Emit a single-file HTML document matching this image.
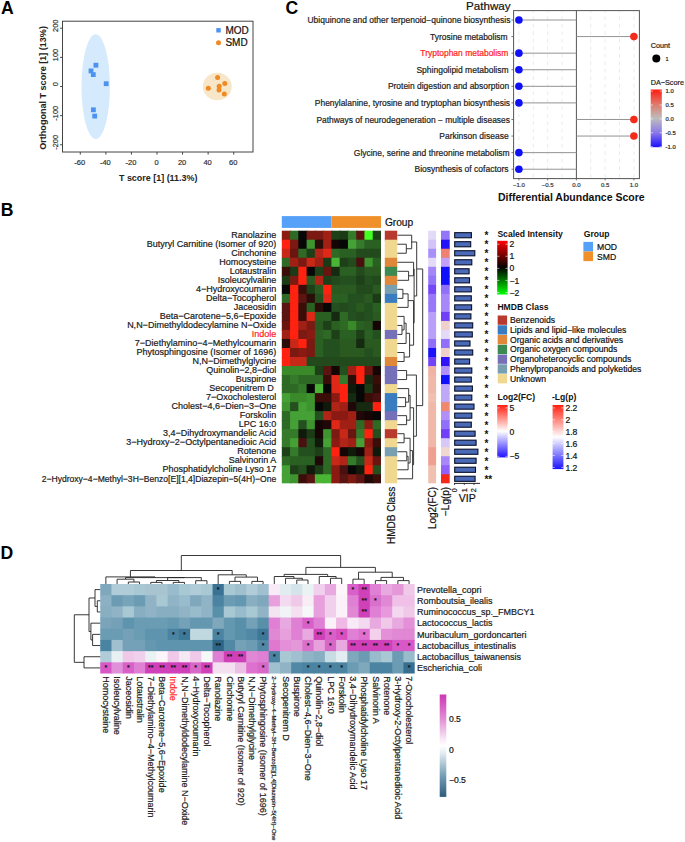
<!DOCTYPE html>
<html><head><meta charset="utf-8"><title>Figure</title>
<style>
html,body{margin:0;padding:0;background:#fff;}
body{width:685px;height:842px;overflow:hidden;}
svg{display:block;font-family:"Liberation Sans", sans-serif;}
</style></head>
<body>
<svg width="685" height="842" viewBox="0 0 685 842" shape-rendering="auto">
<rect x="0" y="0" width="685" height="842" fill="#fff"/>
<text x="0.90" y="14.00" font-size="17.6" font-weight="bold" fill="#000">A</text>
<text x="285.60" y="14.00" font-size="17.6" font-weight="bold" fill="#000">C</text>
<text x="0.70" y="215.80" font-size="17.6" font-weight="bold" fill="#000">B</text>
<text x="0.60" y="558.90" font-size="17.6" font-weight="bold" fill="#000">D</text>
<ellipse cx="95.7" cy="86.6" rx="14.2" ry="52.4" fill="#d5eafc"/>
<ellipse cx="217.3" cy="86.5" rx="14.45" ry="13.8" fill="#f8e6c8"/>
<rect x="62.5" y="21.2" width="190.5" height="130.8" fill="none" stroke="#444" stroke-width="1"/>
<line x1="60.10" y1="28.20" x2="62.50" y2="28.20" stroke="#444" stroke-width="1"/>
<text x="57.90" y="25.80" font-size="7.4" text-anchor="middle" fill="#333" transform="rotate(-90 57.90 25.80)" stroke="#333" stroke-width="0.2">200</text>
<line x1="60.10" y1="57.35" x2="62.50" y2="57.35" stroke="#444" stroke-width="1"/>
<text x="57.90" y="54.95" font-size="7.4" text-anchor="middle" fill="#333" transform="rotate(-90 57.90 54.95)" stroke="#333" stroke-width="0.2">100</text>
<line x1="60.10" y1="86.50" x2="62.50" y2="86.50" stroke="#444" stroke-width="1"/>
<text x="57.90" y="84.10" font-size="7.4" text-anchor="middle" fill="#333" transform="rotate(-90 57.90 84.10)" stroke="#333" stroke-width="0.2">0</text>
<line x1="60.10" y1="115.65" x2="62.50" y2="115.65" stroke="#444" stroke-width="1"/>
<text x="57.90" y="113.25" font-size="7.4" text-anchor="middle" fill="#333" transform="rotate(-90 57.90 113.25)" stroke="#333" stroke-width="0.2">-100</text>
<line x1="60.10" y1="144.80" x2="62.50" y2="144.80" stroke="#444" stroke-width="1"/>
<text x="57.90" y="142.40" font-size="7.4" text-anchor="middle" fill="#333" transform="rotate(-90 57.90 142.40)" stroke="#333" stroke-width="0.2">-200</text>
<line x1="80.29" y1="152.00" x2="80.29" y2="154.60" stroke="#444" stroke-width="1"/>
<text x="79.79" y="165.40" font-size="7.5" text-anchor="middle" fill="#333" stroke="#333" stroke-width="0.2">-60</text>
<line x1="105.86" y1="152.00" x2="105.86" y2="154.60" stroke="#444" stroke-width="1"/>
<text x="105.36" y="165.40" font-size="7.5" text-anchor="middle" fill="#333" stroke="#333" stroke-width="0.2">-40</text>
<line x1="131.43" y1="152.00" x2="131.43" y2="154.60" stroke="#444" stroke-width="1"/>
<text x="130.93" y="165.40" font-size="7.5" text-anchor="middle" fill="#333" stroke="#333" stroke-width="0.2">-20</text>
<line x1="157.00" y1="152.00" x2="157.00" y2="154.60" stroke="#444" stroke-width="1"/>
<text x="156.50" y="165.40" font-size="7.5" text-anchor="middle" fill="#333" stroke="#333" stroke-width="0.2">0</text>
<line x1="182.57" y1="152.00" x2="182.57" y2="154.60" stroke="#444" stroke-width="1"/>
<text x="182.07" y="165.40" font-size="7.5" text-anchor="middle" fill="#333" stroke="#333" stroke-width="0.2">20</text>
<line x1="208.14" y1="152.00" x2="208.14" y2="154.60" stroke="#444" stroke-width="1"/>
<text x="207.64" y="165.40" font-size="7.5" text-anchor="middle" fill="#333" stroke="#333" stroke-width="0.2">40</text>
<line x1="233.71" y1="152.00" x2="233.71" y2="154.60" stroke="#444" stroke-width="1"/>
<text x="233.21" y="165.40" font-size="7.5" text-anchor="middle" fill="#333" stroke="#333" stroke-width="0.2">60</text>
<text x="158.20" y="180.70" font-size="8.95" font-weight="bold" text-anchor="middle" fill="#222">T score [1] (11.3%)</text>
<text x="46.10" y="87.90" font-size="9.05" font-weight="bold" text-anchor="middle" fill="#222" transform="rotate(-90 46.10 87.90)">Orthogonal T score [1] (13%)</text>
<rect x="93.50" y="62.80" width="4.80" height="4.80" fill="#4c92f0"/>
<rect x="88.60" y="68.50" width="4.80" height="4.80" fill="#4c92f0"/>
<rect x="90.90" y="72.20" width="4.80" height="4.80" fill="#4c92f0"/>
<rect x="103.80" y="81.30" width="4.80" height="4.80" fill="#4c92f0"/>
<rect x="91.00" y="107.40" width="4.80" height="4.80" fill="#4c92f0"/>
<rect x="92.30" y="113.70" width="4.80" height="4.80" fill="#4c92f0"/>
<circle cx="217.60" cy="77.50" r="2.50" fill="#ef8a25"/>
<circle cx="208.30" cy="88.30" r="2.50" fill="#ef8a25"/>
<circle cx="219.20" cy="86.30" r="2.50" fill="#ef8a25"/>
<circle cx="219.00" cy="90.00" r="2.50" fill="#ef8a25"/>
<circle cx="224.80" cy="83.50" r="2.50" fill="#ef8a25"/>
<circle cx="224.30" cy="94.10" r="2.50" fill="#ef8a25"/>
<rect x="216.30" y="28.10" width="4.40" height="4.40" fill="#4c92f0"/>
<text x="225.40" y="33.60" font-size="10.0" fill="#111" stroke="#111" stroke-width="0.2">MOD</text>
<circle cx="218.50" cy="42.70" r="2.50" fill="#ef8a25"/>
<text x="225.40" y="46.10" font-size="10.0" fill="#111" stroke="#111" stroke-width="0.2">SMD</text>
<rect x="513.60" y="10.60" width="125.80" height="168.00" fill="#fff"/>
<line x1="518.90" y1="10.60" x2="518.90" y2="178.60" stroke="#e9e9e9" stroke-width="0.9" stroke-dasharray="3.6,3.9" stroke-dashoffset="1.7"/>
<line x1="533.27" y1="10.60" x2="533.27" y2="178.60" stroke="#e9e9e9" stroke-width="0.9" stroke-dasharray="3.6,3.9" stroke-dashoffset="1.7"/>
<line x1="547.65" y1="10.60" x2="547.65" y2="178.60" stroke="#e9e9e9" stroke-width="0.9" stroke-dasharray="3.6,3.9" stroke-dashoffset="1.7"/>
<line x1="562.02" y1="10.60" x2="562.02" y2="178.60" stroke="#e9e9e9" stroke-width="0.9" stroke-dasharray="3.6,3.9" stroke-dashoffset="1.7"/>
<line x1="590.77" y1="10.60" x2="590.77" y2="178.60" stroke="#e9e9e9" stroke-width="0.9" stroke-dasharray="3.6,3.9" stroke-dashoffset="1.7"/>
<line x1="605.15" y1="10.60" x2="605.15" y2="178.60" stroke="#e9e9e9" stroke-width="0.9" stroke-dasharray="3.6,3.9" stroke-dashoffset="1.7"/>
<line x1="619.52" y1="10.60" x2="619.52" y2="178.60" stroke="#e9e9e9" stroke-width="0.9" stroke-dasharray="3.6,3.9" stroke-dashoffset="1.7"/>
<line x1="633.90" y1="10.60" x2="633.90" y2="178.60" stroke="#e9e9e9" stroke-width="0.9" stroke-dasharray="3.6,3.9" stroke-dashoffset="1.7"/>
<line x1="576.40" y1="10.60" x2="576.40" y2="178.60" stroke="#555" stroke-width="1"/>
<line x1="576.40" y1="20.00" x2="518.90" y2="20.00" stroke="#939393" stroke-width="1.0"/>
<line x1="576.40" y1="36.58" x2="633.90" y2="36.58" stroke="#939393" stroke-width="1.0"/>
<line x1="576.40" y1="53.16" x2="518.90" y2="53.16" stroke="#939393" stroke-width="1.0"/>
<line x1="576.40" y1="69.74" x2="518.90" y2="69.74" stroke="#939393" stroke-width="1.0"/>
<line x1="576.40" y1="86.32" x2="518.90" y2="86.32" stroke="#939393" stroke-width="1.0"/>
<line x1="576.40" y1="102.90" x2="518.90" y2="102.90" stroke="#939393" stroke-width="1.0"/>
<line x1="576.40" y1="119.48" x2="633.90" y2="119.48" stroke="#939393" stroke-width="1.0"/>
<line x1="576.40" y1="136.06" x2="633.90" y2="136.06" stroke="#939393" stroke-width="1.0"/>
<line x1="576.40" y1="152.64" x2="518.90" y2="152.64" stroke="#939393" stroke-width="1.0"/>
<line x1="576.40" y1="169.22" x2="518.90" y2="169.22" stroke="#939393" stroke-width="1.0"/>
<rect x="513.6" y="10.6" width="125.79999999999995" height="168.0" fill="none" stroke="#555" stroke-width="1"/>
<circle cx="518.90" cy="20.00" r="3.80" fill="#1010f6"/>
<line x1="511.40" y1="20.00" x2="513.60" y2="20.00" stroke="#555" stroke-width="0.8"/>
<text x="307.50" y="23.10" font-size="8.4" fill="#222" textLength="202.9" lengthAdjust="spacingAndGlyphs" stroke="#222" stroke-width="0.2">Ubiquinone and other terpenoid−quinone biosynthesis</text>
<circle cx="633.90" cy="36.58" r="3.80" fill="#f42a1a"/>
<line x1="511.40" y1="36.58" x2="513.60" y2="36.58" stroke="#555" stroke-width="0.8"/>
<text x="430.10" y="39.68" font-size="8.4" fill="#222" textLength="77.5" lengthAdjust="spacingAndGlyphs" stroke="#222" stroke-width="0.2">Tyrosine metabolism</text>
<circle cx="518.90" cy="53.16" r="3.80" fill="#1010f6"/>
<line x1="511.40" y1="53.16" x2="513.60" y2="53.16" stroke="#555" stroke-width="0.8"/>
<text x="420.30" y="56.26" font-size="8.4" fill="#f22" textLength="88.1" lengthAdjust="spacingAndGlyphs" stroke="#f22" stroke-width="0.2">Tryptophan metabolism</text>
<circle cx="518.90" cy="69.74" r="3.80" fill="#1010f6"/>
<line x1="511.40" y1="69.74" x2="513.60" y2="69.74" stroke="#555" stroke-width="0.8"/>
<text x="416.40" y="72.84" font-size="8.4" fill="#222" textLength="92.2" lengthAdjust="spacingAndGlyphs" stroke="#222" stroke-width="0.2">Sphingolipid metabolism</text>
<circle cx="518.90" cy="86.32" r="3.80" fill="#1010f6"/>
<line x1="511.40" y1="86.32" x2="513.60" y2="86.32" stroke="#555" stroke-width="0.8"/>
<text x="387.90" y="89.42" font-size="8.4" fill="#222" textLength="121.2" lengthAdjust="spacingAndGlyphs" stroke="#222" stroke-width="0.2">Protein digestion and absorption</text>
<circle cx="518.90" cy="102.90" r="3.80" fill="#1010f6"/>
<line x1="511.40" y1="102.90" x2="513.60" y2="102.90" stroke="#555" stroke-width="0.8"/>
<text x="314.80" y="106.00" font-size="8.4" fill="#222" textLength="195.2" lengthAdjust="spacingAndGlyphs" stroke="#222" stroke-width="0.2">Phenylalanine, tyrosine and tryptophan biosynthesis</text>
<circle cx="633.90" cy="119.48" r="3.80" fill="#f42a1a"/>
<line x1="511.40" y1="119.48" x2="513.60" y2="119.48" stroke="#555" stroke-width="0.8"/>
<text x="316.40" y="122.58" font-size="8.4" fill="#222" textLength="193.6" lengthAdjust="spacingAndGlyphs" stroke="#222" stroke-width="0.2">Pathways of neurodegeneration − multiple diseases</text>
<circle cx="633.90" cy="136.06" r="3.80" fill="#f42a1a"/>
<line x1="511.40" y1="136.06" x2="513.60" y2="136.06" stroke="#555" stroke-width="0.8"/>
<text x="439.30" y="139.16" font-size="8.4" fill="#222" textLength="69.3" lengthAdjust="spacingAndGlyphs" stroke="#222" stroke-width="0.2">Parkinson disease</text>
<circle cx="518.90" cy="152.64" r="3.80" fill="#1010f6"/>
<line x1="511.40" y1="152.64" x2="513.60" y2="152.64" stroke="#555" stroke-width="0.8"/>
<text x="353.80" y="155.74" font-size="8.4" fill="#222" textLength="155.8" lengthAdjust="spacingAndGlyphs" stroke="#222" stroke-width="0.2">Glycine, serine and threonine metabolism</text>
<circle cx="518.90" cy="169.22" r="3.80" fill="#1010f6"/>
<line x1="511.40" y1="169.22" x2="513.60" y2="169.22" stroke="#555" stroke-width="0.8"/>
<text x="414.50" y="172.32" font-size="8.4" fill="#222" textLength="94.1" lengthAdjust="spacingAndGlyphs" stroke="#222" stroke-width="0.2">Biosynthesis of cofactors</text>
<line x1="518.90" y1="178.60" x2="518.90" y2="180.40" stroke="#555" stroke-width="0.8"/>
<text x="518.90" y="186.80" font-size="6.0" text-anchor="middle" fill="#333" stroke="#333" stroke-width="0.2">−1.0</text>
<line x1="547.65" y1="178.60" x2="547.65" y2="180.40" stroke="#555" stroke-width="0.8"/>
<text x="547.65" y="186.80" font-size="6.0" text-anchor="middle" fill="#333" stroke="#333" stroke-width="0.2">−0.5</text>
<line x1="576.40" y1="178.60" x2="576.40" y2="180.40" stroke="#555" stroke-width="0.8"/>
<text x="576.40" y="186.80" font-size="6.0" text-anchor="middle" fill="#333" stroke="#333" stroke-width="0.2">0.0</text>
<line x1="605.15" y1="178.60" x2="605.15" y2="180.40" stroke="#555" stroke-width="0.8"/>
<text x="605.15" y="186.80" font-size="6.0" text-anchor="middle" fill="#333" stroke="#333" stroke-width="0.2">0.5</text>
<line x1="633.90" y1="178.60" x2="633.90" y2="180.40" stroke="#555" stroke-width="0.8"/>
<text x="633.90" y="186.80" font-size="6.0" text-anchor="middle" fill="#333" stroke="#333" stroke-width="0.2">1.0</text>
<text x="498.00" y="200.70" font-size="10.5" font-weight="bold" fill="#111">Differential Abundance Score</text>
<text x="466.10" y="10.00" font-size="11.6" fill="#111" stroke="#111" stroke-width="0.2">Pathway</text>
<text x="650.70" y="47.60" font-size="7.25" fill="#222" stroke="#222" stroke-width="0.2">Count</text>
<circle cx="656.30" cy="58.40" r="4.00" fill="#000"/>
<text x="665.50" y="60.60" font-size="5.5" fill="#222" stroke="#222" stroke-width="0.2">1</text>
<text x="650.70" y="85.10" font-size="7.25" fill="#222" stroke="#222" stroke-width="0.2">DA−Score</text>
<defs><linearGradient id="gDA" x1="0" y1="0" x2="0" y2="1"><stop offset="0" stop-color="#ff1a10"/><stop offset="0.25" stop-color="#e0786a"/><stop offset="0.5" stop-color="#bdbdbd"/><stop offset="0.75" stop-color="#8a78e8"/><stop offset="1" stop-color="#1a10ff"/></linearGradient></defs>
<rect x="650.70" y="89.50" width="11.10" height="57.70" fill="url(#gDA)"/>
<line x1="650.70" y1="91.10" x2="652.90" y2="91.10" stroke="#fff" stroke-width="0.6"/>
<line x1="659.60" y1="91.10" x2="661.80" y2="91.10" stroke="#fff" stroke-width="0.6"/>
<text x="665.60" y="93.20" font-size="5.9" fill="#222" stroke="#222" stroke-width="0.2">1.0</text>
<line x1="650.70" y1="105.00" x2="652.90" y2="105.00" stroke="#fff" stroke-width="0.6"/>
<line x1="659.60" y1="105.00" x2="661.80" y2="105.00" stroke="#fff" stroke-width="0.6"/>
<text x="665.60" y="107.10" font-size="5.9" fill="#222" stroke="#222" stroke-width="0.2">0.5</text>
<line x1="650.70" y1="118.90" x2="652.90" y2="118.90" stroke="#fff" stroke-width="0.6"/>
<line x1="659.60" y1="118.90" x2="661.80" y2="118.90" stroke="#fff" stroke-width="0.6"/>
<text x="665.60" y="121.00" font-size="5.9" fill="#222" stroke="#222" stroke-width="0.2">0.0</text>
<line x1="650.70" y1="132.80" x2="652.90" y2="132.80" stroke="#fff" stroke-width="0.6"/>
<line x1="659.60" y1="132.80" x2="661.80" y2="132.80" stroke="#fff" stroke-width="0.6"/>
<text x="665.60" y="134.90" font-size="5.9" fill="#222" stroke="#222" stroke-width="0.2">-0.5</text>
<line x1="650.70" y1="146.70" x2="652.90" y2="146.70" stroke="#fff" stroke-width="0.6"/>
<line x1="659.60" y1="146.70" x2="661.80" y2="146.70" stroke="#fff" stroke-width="0.6"/>
<text x="665.60" y="148.80" font-size="5.9" fill="#222" stroke="#222" stroke-width="0.2">-1.0</text>
<rect x="281.80" y="216.10" width="49.59" height="11.80" fill="#55a0f8"/>
<rect x="331.39" y="216.10" width="49.59" height="11.80" fill="#f0902a"/>
<text x="384.90" y="226.00" font-size="10.2" fill="#111" stroke="#111" stroke-width="0.2">Group</text>
<rect x="281.80" y="230.70" width="9.27" height="10.02" fill="#8a1a12"/>
<rect x="290.06" y="230.70" width="9.27" height="10.02" fill="#2e6a25"/>
<rect x="298.33" y="230.70" width="9.27" height="10.02" fill="#070707"/>
<rect x="306.60" y="230.70" width="9.27" height="10.02" fill="#7a1a12"/>
<rect x="314.86" y="230.70" width="9.27" height="10.02" fill="#7a1a12"/>
<rect x="323.12" y="230.70" width="9.27" height="10.02" fill="#a02015"/>
<rect x="331.39" y="230.70" width="9.27" height="10.02" fill="#1e4018"/>
<rect x="339.66" y="230.70" width="9.27" height="10.02" fill="#1b3a16"/>
<rect x="347.92" y="230.70" width="9.27" height="10.02" fill="#357a2a"/>
<rect x="356.19" y="230.70" width="9.27" height="10.02" fill="#5a1512"/>
<rect x="364.45" y="230.70" width="9.27" height="10.02" fill="#44ff22"/>
<rect x="372.72" y="230.70" width="8.27" height="10.02" fill="#1e4018"/>
<rect x="281.80" y="239.72" width="9.27" height="10.02" fill="#ff2210"/>
<rect x="290.06" y="239.72" width="9.27" height="10.02" fill="#7a1a12"/>
<rect x="298.33" y="239.72" width="9.27" height="10.02" fill="#070707"/>
<rect x="306.60" y="239.72" width="9.27" height="10.02" fill="#3e952f"/>
<rect x="314.86" y="239.72" width="9.27" height="10.02" fill="#2a0d08"/>
<rect x="323.12" y="239.72" width="9.27" height="10.02" fill="#a02015"/>
<rect x="331.39" y="239.72" width="9.27" height="10.02" fill="#150505"/>
<rect x="339.66" y="239.72" width="9.27" height="10.02" fill="#070707"/>
<rect x="347.92" y="239.72" width="9.27" height="10.02" fill="#45a035"/>
<rect x="356.19" y="239.72" width="9.27" height="10.02" fill="#357a2a"/>
<rect x="364.45" y="239.72" width="9.27" height="10.02" fill="#2a6022"/>
<rect x="372.72" y="239.72" width="8.27" height="10.02" fill="#2a6022"/>
<rect x="281.80" y="248.74" width="9.27" height="10.02" fill="#c82818"/>
<rect x="290.06" y="248.74" width="9.27" height="10.02" fill="#6a1510"/>
<rect x="298.33" y="248.74" width="9.27" height="10.02" fill="#2e6a25"/>
<rect x="306.60" y="248.74" width="9.27" height="10.02" fill="#1e4018"/>
<rect x="314.86" y="248.74" width="9.27" height="10.02" fill="#b02518"/>
<rect x="323.12" y="248.74" width="9.27" height="10.02" fill="#e02818"/>
<rect x="331.39" y="248.74" width="9.27" height="10.02" fill="#2e6a25"/>
<rect x="339.66" y="248.74" width="9.27" height="10.02" fill="#2a6022"/>
<rect x="347.92" y="248.74" width="9.27" height="10.02" fill="#2a6022"/>
<rect x="356.19" y="248.74" width="9.27" height="10.02" fill="#224a1c"/>
<rect x="364.45" y="248.74" width="9.27" height="10.02" fill="#224a1c"/>
<rect x="372.72" y="248.74" width="8.27" height="10.02" fill="#224a1c"/>
<rect x="281.80" y="257.77" width="9.27" height="10.02" fill="#2e6a25"/>
<rect x="290.06" y="257.77" width="9.27" height="10.02" fill="#a02015"/>
<rect x="298.33" y="257.77" width="9.27" height="10.02" fill="#7a1a12"/>
<rect x="306.60" y="257.77" width="9.27" height="10.02" fill="#c82818"/>
<rect x="314.86" y="257.77" width="9.27" height="10.02" fill="#a02015"/>
<rect x="323.12" y="257.77" width="9.27" height="10.02" fill="#1b3a16"/>
<rect x="331.39" y="257.77" width="9.27" height="10.02" fill="#4ab535"/>
<rect x="339.66" y="257.77" width="9.27" height="10.02" fill="#1e4018"/>
<rect x="347.92" y="257.77" width="9.27" height="10.02" fill="#224a1c"/>
<rect x="356.19" y="257.77" width="9.27" height="10.02" fill="#4a1010"/>
<rect x="364.45" y="257.77" width="9.27" height="10.02" fill="#3e952f"/>
<rect x="372.72" y="257.77" width="8.27" height="10.02" fill="#2a6022"/>
<rect x="281.80" y="266.79" width="9.27" height="10.02" fill="#3a0d08"/>
<rect x="290.06" y="266.79" width="9.27" height="10.02" fill="#1b3a16"/>
<rect x="298.33" y="266.79" width="9.27" height="10.02" fill="#ff2210"/>
<rect x="306.60" y="266.79" width="9.27" height="10.02" fill="#070707"/>
<rect x="314.86" y="266.79" width="9.27" height="10.02" fill="#1e4018"/>
<rect x="323.12" y="266.79" width="9.27" height="10.02" fill="#6a1510"/>
<rect x="331.39" y="266.79" width="9.27" height="10.02" fill="#152a10"/>
<rect x="339.66" y="266.79" width="9.27" height="10.02" fill="#2a6022"/>
<rect x="347.92" y="266.79" width="9.27" height="10.02" fill="#2a6022"/>
<rect x="356.19" y="266.79" width="9.27" height="10.02" fill="#224a1c"/>
<rect x="364.45" y="266.79" width="9.27" height="10.02" fill="#2a5a20"/>
<rect x="372.72" y="266.79" width="8.27" height="10.02" fill="#2a5a20"/>
<rect x="281.80" y="275.81" width="9.27" height="10.02" fill="#1b3a16"/>
<rect x="290.06" y="275.81" width="9.27" height="10.02" fill="#7a1a12"/>
<rect x="298.33" y="275.81" width="9.27" height="10.02" fill="#ff2210"/>
<rect x="306.60" y="275.81" width="9.27" height="10.02" fill="#2a5a20"/>
<rect x="314.86" y="275.81" width="9.27" height="10.02" fill="#b02518"/>
<rect x="323.12" y="275.81" width="9.27" height="10.02" fill="#1e4018"/>
<rect x="331.39" y="275.81" width="9.27" height="10.02" fill="#224a1c"/>
<rect x="339.66" y="275.81" width="9.27" height="10.02" fill="#245020"/>
<rect x="347.92" y="275.81" width="9.27" height="10.02" fill="#245020"/>
<rect x="356.19" y="275.81" width="9.27" height="10.02" fill="#1e4018"/>
<rect x="364.45" y="275.81" width="9.27" height="10.02" fill="#245020"/>
<rect x="372.72" y="275.81" width="8.27" height="10.02" fill="#224a1c"/>
<rect x="281.80" y="284.83" width="9.27" height="10.02" fill="#070707"/>
<rect x="290.06" y="284.83" width="9.27" height="10.02" fill="#ff2210"/>
<rect x="298.33" y="284.83" width="9.27" height="10.02" fill="#3a0d08"/>
<rect x="306.60" y="284.83" width="9.27" height="10.02" fill="#1e4018"/>
<rect x="314.86" y="284.83" width="9.27" height="10.02" fill="#2a5a20"/>
<rect x="323.12" y="284.83" width="9.27" height="10.02" fill="#ff2210"/>
<rect x="331.39" y="284.83" width="9.27" height="10.02" fill="#2a5a20"/>
<rect x="339.66" y="284.83" width="9.27" height="10.02" fill="#2a5a20"/>
<rect x="347.92" y="284.83" width="9.27" height="10.02" fill="#2a5a20"/>
<rect x="356.19" y="284.83" width="9.27" height="10.02" fill="#224a1c"/>
<rect x="364.45" y="284.83" width="9.27" height="10.02" fill="#224a1c"/>
<rect x="372.72" y="284.83" width="8.27" height="10.02" fill="#2a5a20"/>
<rect x="281.80" y="293.85" width="9.27" height="10.02" fill="#2e6a25"/>
<rect x="290.06" y="293.85" width="9.27" height="10.02" fill="#ff2210"/>
<rect x="298.33" y="293.85" width="9.27" height="10.02" fill="#5a1512"/>
<rect x="306.60" y="293.85" width="9.27" height="10.02" fill="#2a0d08"/>
<rect x="314.86" y="293.85" width="9.27" height="10.02" fill="#245020"/>
<rect x="323.12" y="293.85" width="9.27" height="10.02" fill="#e02818"/>
<rect x="331.39" y="293.85" width="9.27" height="10.02" fill="#2a6022"/>
<rect x="339.66" y="293.85" width="9.27" height="10.02" fill="#2a6022"/>
<rect x="347.92" y="293.85" width="9.27" height="10.02" fill="#245020"/>
<rect x="356.19" y="293.85" width="9.27" height="10.02" fill="#245020"/>
<rect x="364.45" y="293.85" width="9.27" height="10.02" fill="#2a5a20"/>
<rect x="372.72" y="293.85" width="8.27" height="10.02" fill="#1b3a16"/>
<rect x="281.80" y="302.88" width="9.27" height="10.02" fill="#5a1512"/>
<rect x="290.06" y="302.88" width="9.27" height="10.02" fill="#ff2210"/>
<rect x="298.33" y="302.88" width="9.27" height="10.02" fill="#3a0d08"/>
<rect x="306.60" y="302.88" width="9.27" height="10.02" fill="#2a6022"/>
<rect x="314.86" y="302.88" width="9.27" height="10.02" fill="#2a0d08"/>
<rect x="323.12" y="302.88" width="9.27" height="10.02" fill="#070707"/>
<rect x="331.39" y="302.88" width="9.27" height="10.02" fill="#245020"/>
<rect x="339.66" y="302.88" width="9.27" height="10.02" fill="#224a1c"/>
<rect x="347.92" y="302.88" width="9.27" height="10.02" fill="#245020"/>
<rect x="356.19" y="302.88" width="9.27" height="10.02" fill="#2a5a20"/>
<rect x="364.45" y="302.88" width="9.27" height="10.02" fill="#245020"/>
<rect x="372.72" y="302.88" width="8.27" height="10.02" fill="#2a6022"/>
<rect x="281.80" y="311.90" width="9.27" height="10.02" fill="#5a1512"/>
<rect x="290.06" y="311.90" width="9.27" height="10.02" fill="#ff2210"/>
<rect x="298.33" y="311.90" width="9.27" height="10.02" fill="#3a0d08"/>
<rect x="306.60" y="311.90" width="9.27" height="10.02" fill="#e02818"/>
<rect x="314.86" y="311.90" width="9.27" height="10.02" fill="#2a6022"/>
<rect x="323.12" y="311.90" width="9.27" height="10.02" fill="#2a6022"/>
<rect x="331.39" y="311.90" width="9.27" height="10.02" fill="#152a10"/>
<rect x="339.66" y="311.90" width="9.27" height="10.02" fill="#2e6a25"/>
<rect x="347.92" y="311.90" width="9.27" height="10.02" fill="#245020"/>
<rect x="356.19" y="311.90" width="9.27" height="10.02" fill="#224a1c"/>
<rect x="364.45" y="311.90" width="9.27" height="10.02" fill="#245020"/>
<rect x="372.72" y="311.90" width="8.27" height="10.02" fill="#2a5a20"/>
<rect x="281.80" y="320.92" width="9.27" height="10.02" fill="#6a1510"/>
<rect x="290.06" y="320.92" width="9.27" height="10.02" fill="#ff2210"/>
<rect x="298.33" y="320.92" width="9.27" height="10.02" fill="#a02015"/>
<rect x="306.60" y="320.92" width="9.27" height="10.02" fill="#7a1a12"/>
<rect x="314.86" y="320.92" width="9.27" height="10.02" fill="#2a5a20"/>
<rect x="323.12" y="320.92" width="9.27" height="10.02" fill="#1e4018"/>
<rect x="331.39" y="320.92" width="9.27" height="10.02" fill="#2a6022"/>
<rect x="339.66" y="320.92" width="9.27" height="10.02" fill="#2e6a25"/>
<rect x="347.92" y="320.92" width="9.27" height="10.02" fill="#3a8a2a"/>
<rect x="356.19" y="320.92" width="9.27" height="10.02" fill="#2a6022"/>
<rect x="364.45" y="320.92" width="9.27" height="10.02" fill="#2a5a20"/>
<rect x="372.72" y="320.92" width="8.27" height="10.02" fill="#150505"/>
<rect x="281.80" y="329.94" width="9.27" height="10.02" fill="#a02015"/>
<rect x="290.06" y="329.94" width="9.27" height="10.02" fill="#ff2210"/>
<rect x="298.33" y="329.94" width="9.27" height="10.02" fill="#7a1a12"/>
<rect x="306.60" y="329.94" width="9.27" height="10.02" fill="#8a1a12"/>
<rect x="314.86" y="329.94" width="9.27" height="10.02" fill="#2a6022"/>
<rect x="323.12" y="329.94" width="9.27" height="10.02" fill="#2e6a25"/>
<rect x="331.39" y="329.94" width="9.27" height="10.02" fill="#1e4018"/>
<rect x="339.66" y="329.94" width="9.27" height="10.02" fill="#2a6022"/>
<rect x="347.92" y="329.94" width="9.27" height="10.02" fill="#2a6022"/>
<rect x="356.19" y="329.94" width="9.27" height="10.02" fill="#1e4018"/>
<rect x="364.45" y="329.94" width="9.27" height="10.02" fill="#2a6022"/>
<rect x="372.72" y="329.94" width="8.27" height="10.02" fill="#245020"/>
<rect x="281.80" y="338.96" width="9.27" height="10.02" fill="#2a0d08"/>
<rect x="290.06" y="338.96" width="9.27" height="10.02" fill="#c82818"/>
<rect x="298.33" y="338.96" width="9.27" height="10.02" fill="#ff2210"/>
<rect x="306.60" y="338.96" width="9.27" height="10.02" fill="#7a1a12"/>
<rect x="314.86" y="338.96" width="9.27" height="10.02" fill="#2a6022"/>
<rect x="323.12" y="338.96" width="9.27" height="10.02" fill="#245020"/>
<rect x="331.39" y="338.96" width="9.27" height="10.02" fill="#245020"/>
<rect x="339.66" y="338.96" width="9.27" height="10.02" fill="#2a5a20"/>
<rect x="347.92" y="338.96" width="9.27" height="10.02" fill="#2a5a20"/>
<rect x="356.19" y="338.96" width="9.27" height="10.02" fill="#152a10"/>
<rect x="364.45" y="338.96" width="9.27" height="10.02" fill="#2a5a20"/>
<rect x="372.72" y="338.96" width="8.27" height="10.02" fill="#2a5a20"/>
<rect x="281.80" y="347.99" width="9.27" height="10.02" fill="#ff2210"/>
<rect x="290.06" y="347.99" width="9.27" height="10.02" fill="#7a1a12"/>
<rect x="298.33" y="347.99" width="9.27" height="10.02" fill="#8a1a12"/>
<rect x="306.60" y="347.99" width="9.27" height="10.02" fill="#7a1a12"/>
<rect x="314.86" y="347.99" width="9.27" height="10.02" fill="#2a6022"/>
<rect x="323.12" y="347.99" width="9.27" height="10.02" fill="#245020"/>
<rect x="331.39" y="347.99" width="9.27" height="10.02" fill="#245020"/>
<rect x="339.66" y="347.99" width="9.27" height="10.02" fill="#2a5a20"/>
<rect x="347.92" y="347.99" width="9.27" height="10.02" fill="#2a5a20"/>
<rect x="356.19" y="347.99" width="9.27" height="10.02" fill="#2a5a20"/>
<rect x="364.45" y="347.99" width="9.27" height="10.02" fill="#245020"/>
<rect x="372.72" y="347.99" width="8.27" height="10.02" fill="#2a5a20"/>
<rect x="281.80" y="357.01" width="9.27" height="10.02" fill="#ff2210"/>
<rect x="290.06" y="357.01" width="9.27" height="10.02" fill="#c82818"/>
<rect x="298.33" y="357.01" width="9.27" height="10.02" fill="#c82818"/>
<rect x="306.60" y="357.01" width="9.27" height="10.02" fill="#224a1c"/>
<rect x="314.86" y="357.01" width="9.27" height="10.02" fill="#224a1c"/>
<rect x="323.12" y="357.01" width="9.27" height="10.02" fill="#224a1c"/>
<rect x="331.39" y="357.01" width="9.27" height="10.02" fill="#224a1c"/>
<rect x="339.66" y="357.01" width="9.27" height="10.02" fill="#224a1c"/>
<rect x="347.92" y="357.01" width="9.27" height="10.02" fill="#224a1c"/>
<rect x="356.19" y="357.01" width="9.27" height="10.02" fill="#224a1c"/>
<rect x="364.45" y="357.01" width="9.27" height="10.02" fill="#224a1c"/>
<rect x="372.72" y="357.01" width="8.27" height="10.02" fill="#224a1c"/>
<rect x="281.80" y="366.03" width="9.27" height="10.02" fill="#3a8a2a"/>
<rect x="290.06" y="366.03" width="9.27" height="10.02" fill="#3a8a2a"/>
<rect x="298.33" y="366.03" width="9.27" height="10.02" fill="#3a8a2a"/>
<rect x="306.60" y="366.03" width="9.27" height="10.02" fill="#3a8a2a"/>
<rect x="314.86" y="366.03" width="9.27" height="10.02" fill="#1e4018"/>
<rect x="323.12" y="366.03" width="9.27" height="10.02" fill="#5a1512"/>
<rect x="331.39" y="366.03" width="9.27" height="10.02" fill="#150505"/>
<rect x="339.66" y="366.03" width="9.27" height="10.02" fill="#245020"/>
<rect x="347.92" y="366.03" width="9.27" height="10.02" fill="#a02015"/>
<rect x="356.19" y="366.03" width="9.27" height="10.02" fill="#ff2210"/>
<rect x="364.45" y="366.03" width="9.27" height="10.02" fill="#6a1510"/>
<rect x="372.72" y="366.03" width="8.27" height="10.02" fill="#150505"/>
<rect x="281.80" y="375.05" width="9.27" height="10.02" fill="#2e6a25"/>
<rect x="290.06" y="375.05" width="9.27" height="10.02" fill="#357a2a"/>
<rect x="298.33" y="375.05" width="9.27" height="10.02" fill="#2e6a25"/>
<rect x="306.60" y="375.05" width="9.27" height="10.02" fill="#2e6a25"/>
<rect x="314.86" y="375.05" width="9.27" height="10.02" fill="#2e6a25"/>
<rect x="323.12" y="375.05" width="9.27" height="10.02" fill="#3a0d08"/>
<rect x="331.39" y="375.05" width="9.27" height="10.02" fill="#e02818"/>
<rect x="339.66" y="375.05" width="9.27" height="10.02" fill="#357a2a"/>
<rect x="347.92" y="375.05" width="9.27" height="10.02" fill="#2a0d08"/>
<rect x="356.19" y="375.05" width="9.27" height="10.02" fill="#ff2210"/>
<rect x="364.45" y="375.05" width="9.27" height="10.02" fill="#152a10"/>
<rect x="372.72" y="375.05" width="8.27" height="10.02" fill="#3a0d08"/>
<rect x="281.80" y="384.07" width="9.27" height="10.02" fill="#2e6a25"/>
<rect x="290.06" y="384.07" width="9.27" height="10.02" fill="#2e6a25"/>
<rect x="298.33" y="384.07" width="9.27" height="10.02" fill="#357a2a"/>
<rect x="306.60" y="384.07" width="9.27" height="10.02" fill="#070707"/>
<rect x="314.86" y="384.07" width="9.27" height="10.02" fill="#4ab535"/>
<rect x="323.12" y="384.07" width="9.27" height="10.02" fill="#070707"/>
<rect x="331.39" y="384.07" width="9.27" height="10.02" fill="#e02818"/>
<rect x="339.66" y="384.07" width="9.27" height="10.02" fill="#ff2210"/>
<rect x="347.92" y="384.07" width="9.27" height="10.02" fill="#0f1a0a"/>
<rect x="356.19" y="384.07" width="9.27" height="10.02" fill="#070707"/>
<rect x="364.45" y="384.07" width="9.27" height="10.02" fill="#1b3a16"/>
<rect x="372.72" y="384.07" width="8.27" height="10.02" fill="#2a0d08"/>
<rect x="281.80" y="393.10" width="9.27" height="10.02" fill="#45a035"/>
<rect x="290.06" y="393.10" width="9.27" height="10.02" fill="#3a8a2a"/>
<rect x="298.33" y="393.10" width="9.27" height="10.02" fill="#3a8a2a"/>
<rect x="306.60" y="393.10" width="9.27" height="10.02" fill="#3e952f"/>
<rect x="314.86" y="393.10" width="9.27" height="10.02" fill="#3a0d08"/>
<rect x="323.12" y="393.10" width="9.27" height="10.02" fill="#3a0d08"/>
<rect x="331.39" y="393.10" width="9.27" height="10.02" fill="#8a1a12"/>
<rect x="339.66" y="393.10" width="9.27" height="10.02" fill="#ff2210"/>
<rect x="347.92" y="393.10" width="9.27" height="10.02" fill="#152a10"/>
<rect x="356.19" y="393.10" width="9.27" height="10.02" fill="#070707"/>
<rect x="364.45" y="393.10" width="9.27" height="10.02" fill="#3a0d08"/>
<rect x="372.72" y="393.10" width="8.27" height="10.02" fill="#4a1010"/>
<rect x="281.80" y="402.12" width="9.27" height="10.02" fill="#3e952f"/>
<rect x="290.06" y="402.12" width="9.27" height="10.02" fill="#245020"/>
<rect x="298.33" y="402.12" width="9.27" height="10.02" fill="#45a035"/>
<rect x="306.60" y="402.12" width="9.27" height="10.02" fill="#3e952f"/>
<rect x="314.86" y="402.12" width="9.27" height="10.02" fill="#070707"/>
<rect x="323.12" y="402.12" width="9.27" height="10.02" fill="#0f1a0a"/>
<rect x="331.39" y="402.12" width="9.27" height="10.02" fill="#b02518"/>
<rect x="339.66" y="402.12" width="9.27" height="10.02" fill="#a02015"/>
<rect x="347.92" y="402.12" width="9.27" height="10.02" fill="#200808"/>
<rect x="356.19" y="402.12" width="9.27" height="10.02" fill="#152a10"/>
<rect x="364.45" y="402.12" width="9.27" height="10.02" fill="#152a10"/>
<rect x="372.72" y="402.12" width="8.27" height="10.02" fill="#ff2210"/>
<rect x="281.80" y="411.14" width="9.27" height="10.02" fill="#2e6a25"/>
<rect x="290.06" y="411.14" width="9.27" height="10.02" fill="#45a035"/>
<rect x="298.33" y="411.14" width="9.27" height="10.02" fill="#45a035"/>
<rect x="306.60" y="411.14" width="9.27" height="10.02" fill="#45a035"/>
<rect x="314.86" y="411.14" width="9.27" height="10.02" fill="#245020"/>
<rect x="323.12" y="411.14" width="9.27" height="10.02" fill="#b02518"/>
<rect x="331.39" y="411.14" width="9.27" height="10.02" fill="#8a1a12"/>
<rect x="339.66" y="411.14" width="9.27" height="10.02" fill="#8a1a12"/>
<rect x="347.92" y="411.14" width="9.27" height="10.02" fill="#a02015"/>
<rect x="356.19" y="411.14" width="9.27" height="10.02" fill="#200808"/>
<rect x="364.45" y="411.14" width="9.27" height="10.02" fill="#150505"/>
<rect x="372.72" y="411.14" width="8.27" height="10.02" fill="#070707"/>
<rect x="281.80" y="420.16" width="9.27" height="10.02" fill="#2e6a25"/>
<rect x="290.06" y="420.16" width="9.27" height="10.02" fill="#45a035"/>
<rect x="298.33" y="420.16" width="9.27" height="10.02" fill="#245020"/>
<rect x="306.60" y="420.16" width="9.27" height="10.02" fill="#3e952f"/>
<rect x="314.86" y="420.16" width="9.27" height="10.02" fill="#150505"/>
<rect x="323.12" y="420.16" width="9.27" height="10.02" fill="#200808"/>
<rect x="331.39" y="420.16" width="9.27" height="10.02" fill="#e02818"/>
<rect x="339.66" y="420.16" width="9.27" height="10.02" fill="#a02015"/>
<rect x="347.92" y="420.16" width="9.27" height="10.02" fill="#a02015"/>
<rect x="356.19" y="420.16" width="9.27" height="10.02" fill="#2e6a25"/>
<rect x="364.45" y="420.16" width="9.27" height="10.02" fill="#8a1a12"/>
<rect x="372.72" y="420.16" width="8.27" height="10.02" fill="#2e6a25"/>
<rect x="281.80" y="429.18" width="9.27" height="10.02" fill="#357a2a"/>
<rect x="290.06" y="429.18" width="9.27" height="10.02" fill="#357a2a"/>
<rect x="298.33" y="429.18" width="9.27" height="10.02" fill="#0f1a0a"/>
<rect x="306.60" y="429.18" width="9.27" height="10.02" fill="#1b3a16"/>
<rect x="314.86" y="429.18" width="9.27" height="10.02" fill="#150505"/>
<rect x="323.12" y="429.18" width="9.27" height="10.02" fill="#3e952f"/>
<rect x="331.39" y="429.18" width="9.27" height="10.02" fill="#7a1a12"/>
<rect x="339.66" y="429.18" width="9.27" height="10.02" fill="#c82818"/>
<rect x="347.92" y="429.18" width="9.27" height="10.02" fill="#6a1510"/>
<rect x="356.19" y="429.18" width="9.27" height="10.02" fill="#357a2a"/>
<rect x="364.45" y="429.18" width="9.27" height="10.02" fill="#ff2210"/>
<rect x="372.72" y="429.18" width="8.27" height="10.02" fill="#245020"/>
<rect x="281.80" y="438.21" width="9.27" height="10.02" fill="#357a2a"/>
<rect x="290.06" y="438.21" width="9.27" height="10.02" fill="#45a035"/>
<rect x="298.33" y="438.21" width="9.27" height="10.02" fill="#4a1010"/>
<rect x="306.60" y="438.21" width="9.27" height="10.02" fill="#245020"/>
<rect x="314.86" y="438.21" width="9.27" height="10.02" fill="#0f1a0a"/>
<rect x="323.12" y="438.21" width="9.27" height="10.02" fill="#45a035"/>
<rect x="331.39" y="438.21" width="9.27" height="10.02" fill="#8a1a12"/>
<rect x="339.66" y="438.21" width="9.27" height="10.02" fill="#b02518"/>
<rect x="347.92" y="438.21" width="9.27" height="10.02" fill="#a02015"/>
<rect x="356.19" y="438.21" width="9.27" height="10.02" fill="#45a035"/>
<rect x="364.45" y="438.21" width="9.27" height="10.02" fill="#8a1a12"/>
<rect x="372.72" y="438.21" width="8.27" height="10.02" fill="#3a0d08"/>
<rect x="281.80" y="447.23" width="9.27" height="10.02" fill="#1e4018"/>
<rect x="290.06" y="447.23" width="9.27" height="10.02" fill="#357a2a"/>
<rect x="298.33" y="447.23" width="9.27" height="10.02" fill="#245020"/>
<rect x="306.60" y="447.23" width="9.27" height="10.02" fill="#245020"/>
<rect x="314.86" y="447.23" width="9.27" height="10.02" fill="#1e4018"/>
<rect x="323.12" y="447.23" width="9.27" height="10.02" fill="#2e6a25"/>
<rect x="331.39" y="447.23" width="9.27" height="10.02" fill="#ff2210"/>
<rect x="339.66" y="447.23" width="9.27" height="10.02" fill="#150505"/>
<rect x="347.92" y="447.23" width="9.27" height="10.02" fill="#0f1a0a"/>
<rect x="356.19" y="447.23" width="9.27" height="10.02" fill="#150505"/>
<rect x="364.45" y="447.23" width="9.27" height="10.02" fill="#a02015"/>
<rect x="372.72" y="447.23" width="8.27" height="10.02" fill="#0f1a0a"/>
<rect x="281.80" y="456.25" width="9.27" height="10.02" fill="#2e6a25"/>
<rect x="290.06" y="456.25" width="9.27" height="10.02" fill="#2a6022"/>
<rect x="298.33" y="456.25" width="9.27" height="10.02" fill="#2a6022"/>
<rect x="306.60" y="456.25" width="9.27" height="10.02" fill="#2a6022"/>
<rect x="314.86" y="456.25" width="9.27" height="10.02" fill="#200808"/>
<rect x="323.12" y="456.25" width="9.27" height="10.02" fill="#2e6a25"/>
<rect x="331.39" y="456.25" width="9.27" height="10.02" fill="#c82818"/>
<rect x="339.66" y="456.25" width="9.27" height="10.02" fill="#b02518"/>
<rect x="347.92" y="456.25" width="9.27" height="10.02" fill="#357a2a"/>
<rect x="356.19" y="456.25" width="9.27" height="10.02" fill="#245020"/>
<rect x="364.45" y="456.25" width="9.27" height="10.02" fill="#c82818"/>
<rect x="372.72" y="456.25" width="8.27" height="10.02" fill="#6a1510"/>
<rect x="281.80" y="465.27" width="9.27" height="10.02" fill="#45a035"/>
<rect x="290.06" y="465.27" width="9.27" height="10.02" fill="#1e4018"/>
<rect x="298.33" y="465.27" width="9.27" height="10.02" fill="#245020"/>
<rect x="306.60" y="465.27" width="9.27" height="10.02" fill="#0f1a0a"/>
<rect x="314.86" y="465.27" width="9.27" height="10.02" fill="#1b3a16"/>
<rect x="323.12" y="465.27" width="9.27" height="10.02" fill="#2e6a25"/>
<rect x="331.39" y="465.27" width="9.27" height="10.02" fill="#8a1a12"/>
<rect x="339.66" y="465.27" width="9.27" height="10.02" fill="#4a1010"/>
<rect x="347.92" y="465.27" width="9.27" height="10.02" fill="#070707"/>
<rect x="356.19" y="465.27" width="9.27" height="10.02" fill="#0f1a0a"/>
<rect x="364.45" y="465.27" width="9.27" height="10.02" fill="#ff2210"/>
<rect x="372.72" y="465.27" width="8.27" height="10.02" fill="#245020"/>
<rect x="281.80" y="474.29" width="9.27" height="9.02" fill="#45a035"/>
<rect x="290.06" y="474.29" width="9.27" height="9.02" fill="#3e952f"/>
<rect x="298.33" y="474.29" width="9.27" height="9.02" fill="#3a0d08"/>
<rect x="306.60" y="474.29" width="9.27" height="9.02" fill="#5a1512"/>
<rect x="314.86" y="474.29" width="9.27" height="9.02" fill="#4ab535"/>
<rect x="323.12" y="474.29" width="9.27" height="9.02" fill="#4ab535"/>
<rect x="331.39" y="474.29" width="9.27" height="9.02" fill="#8a1a12"/>
<rect x="339.66" y="474.29" width="9.27" height="9.02" fill="#5a1512"/>
<rect x="347.92" y="474.29" width="9.27" height="9.02" fill="#7a1a12"/>
<rect x="356.19" y="474.29" width="9.27" height="9.02" fill="#5a1512"/>
<rect x="364.45" y="474.29" width="9.27" height="9.02" fill="#200808"/>
<rect x="372.72" y="474.29" width="8.27" height="9.02" fill="#3a0d08"/>
<text x="276.20" y="237.91" font-size="9.0" text-anchor="end" fill="#1a1a1a" stroke="#1a1a1a" stroke-width="0.2">Ranolazine</text>
<text x="276.20" y="246.93" font-size="9.0" text-anchor="end" fill="#1a1a1a" stroke="#1a1a1a" stroke-width="0.2">Butyryl Carnitine (Isomer of 920)</text>
<text x="276.20" y="255.95" font-size="9.0" text-anchor="end" fill="#1a1a1a" stroke="#1a1a1a" stroke-width="0.2">Cinchonine</text>
<text x="276.20" y="264.98" font-size="9.0" text-anchor="end" fill="#1a1a1a" stroke="#1a1a1a" stroke-width="0.2">Homocysteine</text>
<text x="276.20" y="274.00" font-size="9.0" text-anchor="end" fill="#1a1a1a" stroke="#1a1a1a" stroke-width="0.2">Lotaustralin</text>
<text x="276.20" y="283.02" font-size="9.0" text-anchor="end" fill="#1a1a1a" stroke="#1a1a1a" stroke-width="0.2">Isoleucylvaline</text>
<text x="276.20" y="292.04" font-size="9.0" text-anchor="end" fill="#1a1a1a" stroke="#1a1a1a" stroke-width="0.2">4−Hydroxycoumarin</text>
<text x="276.20" y="301.06" font-size="9.0" text-anchor="end" fill="#1a1a1a" stroke="#1a1a1a" stroke-width="0.2">Delta−Tocopherol</text>
<text x="276.20" y="310.09" font-size="9.0" text-anchor="end" fill="#1a1a1a" stroke="#1a1a1a" stroke-width="0.2">Jaceosidin</text>
<text x="276.20" y="319.11" font-size="9.0" text-anchor="end" fill="#1a1a1a" stroke="#1a1a1a" stroke-width="0.2">Beta−Carotene−5,6−Epoxide</text>
<text x="276.20" y="328.13" font-size="9.0" text-anchor="end" fill="#1a1a1a" stroke="#1a1a1a" stroke-width="0.2">N,N−Dimethyldodecylamine N−Oxide</text>
<text x="276.20" y="337.15" font-size="9.0" text-anchor="end" fill="#f22" stroke="#f22" stroke-width="0.2">Indole</text>
<text x="276.20" y="346.18" font-size="9.0" text-anchor="end" fill="#1a1a1a" stroke="#1a1a1a" stroke-width="0.2">7−Diethylamino−4−Methylcoumarin</text>
<text x="276.20" y="355.20" font-size="9.0" text-anchor="end" fill="#1a1a1a" stroke="#1a1a1a" stroke-width="0.2">Phytosphingosine (Isomer of 1696)</text>
<text x="276.20" y="364.22" font-size="9.0" text-anchor="end" fill="#1a1a1a" stroke="#1a1a1a" stroke-width="0.2">N,N−Dimethylglycine</text>
<text x="276.20" y="373.24" font-size="9.0" text-anchor="end" fill="#1a1a1a" stroke="#1a1a1a" stroke-width="0.2">Quinolin−2,8−diol</text>
<text x="276.20" y="382.26" font-size="9.0" text-anchor="end" fill="#1a1a1a" stroke="#1a1a1a" stroke-width="0.2">Buspirone</text>
<text x="276.20" y="391.28" font-size="9.0" text-anchor="end" fill="#1a1a1a" stroke="#1a1a1a" stroke-width="0.2">Secopenitrem D </text>
<text x="276.20" y="400.31" font-size="9.0" text-anchor="end" fill="#1a1a1a" stroke="#1a1a1a" stroke-width="0.2">7−Oxocholesterol</text>
<text x="276.20" y="409.33" font-size="9.0" text-anchor="end" fill="#1a1a1a" stroke="#1a1a1a" stroke-width="0.2">Cholest−4,6−Dien−3−One</text>
<text x="276.20" y="418.35" font-size="9.0" text-anchor="end" fill="#1a1a1a" stroke="#1a1a1a" stroke-width="0.2">Forskolin</text>
<text x="276.20" y="427.37" font-size="9.0" text-anchor="end" fill="#1a1a1a" stroke="#1a1a1a" stroke-width="0.2">LPC 16:0</text>
<text x="276.20" y="436.39" font-size="9.0" text-anchor="end" fill="#1a1a1a" stroke="#1a1a1a" stroke-width="0.2">3,4−Dihydroxymandelic Acid</text>
<text x="276.20" y="445.42" font-size="9.0" text-anchor="end" fill="#1a1a1a" stroke="#1a1a1a" stroke-width="0.2">3−Hydroxy−2−Octylpentanedioic Acid</text>
<text x="276.20" y="454.44" font-size="9.0" text-anchor="end" fill="#1a1a1a" stroke="#1a1a1a" stroke-width="0.2">Rotenone</text>
<text x="276.20" y="463.46" font-size="9.0" text-anchor="end" fill="#1a1a1a" stroke="#1a1a1a" stroke-width="0.2">Salvinorin A</text>
<text x="276.20" y="472.48" font-size="9.0" text-anchor="end" fill="#1a1a1a" stroke="#1a1a1a" stroke-width="0.2">Phosphatidylcholine Lyso 17</text>
<text x="276.20" y="481.50" font-size="9.0" text-anchor="end" fill="#1a1a1a" textLength="234.5" lengthAdjust="spacingAndGlyphs" stroke="#1a1a1a" stroke-width="0.2">2−Hydroxy−4−Methyl−3H−Benzo[E][1,4]Diazepin−5(4H)−One</text>
<rect x="384.80" y="230.70" width="12.40" height="10.02" fill="#b83a2e"/>
<rect x="384.80" y="239.72" width="12.40" height="10.02" fill="#f0d890"/>
<rect x="384.80" y="248.74" width="12.40" height="10.02" fill="#f0d890"/>
<rect x="384.80" y="257.77" width="12.40" height="10.02" fill="#e0883a"/>
<rect x="384.80" y="266.79" width="12.40" height="10.02" fill="#3a8a52"/>
<rect x="384.80" y="275.81" width="12.40" height="10.02" fill="#e0883a"/>
<rect x="384.80" y="284.83" width="12.40" height="10.02" fill="#78a0b0"/>
<rect x="384.80" y="293.85" width="12.40" height="10.02" fill="#3a7cc0"/>
<rect x="384.80" y="302.88" width="12.40" height="10.02" fill="#f0d890"/>
<rect x="384.80" y="311.90" width="12.40" height="10.02" fill="#f0d890"/>
<rect x="384.80" y="320.92" width="12.40" height="10.02" fill="#f0d890"/>
<rect x="384.80" y="329.94" width="12.40" height="10.02" fill="#7670b8"/>
<rect x="384.80" y="338.96" width="12.40" height="10.02" fill="#f0d890"/>
<rect x="384.80" y="347.99" width="12.40" height="10.02" fill="#f0d890"/>
<rect x="384.80" y="357.01" width="12.40" height="10.02" fill="#e0883a"/>
<rect x="384.80" y="366.03" width="12.40" height="10.02" fill="#7670b8"/>
<rect x="384.80" y="375.05" width="12.40" height="10.02" fill="#7670b8"/>
<rect x="384.80" y="384.07" width="12.40" height="10.02" fill="#f0d890"/>
<rect x="384.80" y="393.10" width="12.40" height="10.02" fill="#3a7cc0"/>
<rect x="384.80" y="402.12" width="12.40" height="10.02" fill="#3a7cc0"/>
<rect x="384.80" y="411.14" width="12.40" height="10.02" fill="#7670b8"/>
<rect x="384.80" y="420.16" width="12.40" height="10.02" fill="#f0d890"/>
<rect x="384.80" y="429.18" width="12.40" height="10.02" fill="#b83a2e"/>
<rect x="384.80" y="438.21" width="12.40" height="10.02" fill="#f0d890"/>
<rect x="384.80" y="447.23" width="12.40" height="10.02" fill="#78a0b0"/>
<rect x="384.80" y="456.25" width="12.40" height="10.02" fill="#f0d890"/>
<rect x="384.80" y="465.27" width="12.40" height="10.02" fill="#f0d890"/>
<rect x="384.80" y="474.29" width="12.40" height="9.02" fill="#f0d890"/>
<rect x="428.20" y="230.70" width="7.90" height="10.02" fill="#e2daf6"/>
<rect x="441.00" y="230.70" width="8.70" height="10.02" fill="#9474f8"/>
<rect x="428.20" y="239.72" width="7.90" height="10.02" fill="#d2c4f8"/>
<rect x="441.00" y="239.72" width="8.70" height="10.02" fill="#2212f8"/>
<rect x="428.20" y="248.74" width="7.90" height="10.02" fill="#a890f8"/>
<rect x="441.00" y="248.74" width="8.70" height="10.02" fill="#f08070"/>
<rect x="428.20" y="257.77" width="7.90" height="10.02" fill="#e2daf6"/>
<rect x="441.00" y="257.77" width="8.70" height="10.02" fill="#c0a0f8"/>
<rect x="428.20" y="266.79" width="7.90" height="10.02" fill="#a486f8"/>
<rect x="441.00" y="266.79" width="8.70" height="10.02" fill="#1010f8"/>
<rect x="428.20" y="275.81" width="7.90" height="10.02" fill="#9474f8"/>
<rect x="441.00" y="275.81" width="8.70" height="10.02" fill="#1010f8"/>
<rect x="428.20" y="284.83" width="7.90" height="10.02" fill="#7448f8"/>
<rect x="441.00" y="284.83" width="8.70" height="10.02" fill="#9070f8"/>
<rect x="428.20" y="293.85" width="7.90" height="10.02" fill="#9878f8"/>
<rect x="441.00" y="293.85" width="8.70" height="10.02" fill="#a888f8"/>
<rect x="428.20" y="302.88" width="7.90" height="10.02" fill="#9878f8"/>
<rect x="441.00" y="302.88" width="8.70" height="10.02" fill="#a888f8"/>
<rect x="428.20" y="311.90" width="7.90" height="10.02" fill="#b8a0f8"/>
<rect x="441.00" y="311.90" width="8.70" height="10.02" fill="#7040f8"/>
<rect x="428.20" y="320.92" width="7.90" height="10.02" fill="#b8a0f8"/>
<rect x="441.00" y="320.92" width="8.70" height="10.02" fill="#f0d0cc"/>
<rect x="428.20" y="329.94" width="7.90" height="10.02" fill="#b8a0f8"/>
<rect x="441.00" y="329.94" width="8.70" height="10.02" fill="#e2daf6"/>
<rect x="428.20" y="338.96" width="7.90" height="10.02" fill="#9070f8"/>
<rect x="441.00" y="338.96" width="8.70" height="10.02" fill="#9070f8"/>
<rect x="428.20" y="347.99" width="7.90" height="10.02" fill="#1a12f8"/>
<rect x="441.00" y="347.99" width="8.70" height="10.02" fill="#f0d0c8"/>
<rect x="428.20" y="357.01" width="7.90" height="10.02" fill="#7244f8"/>
<rect x="441.00" y="357.01" width="8.70" height="10.02" fill="#3012f8"/>
<rect x="428.20" y="366.03" width="7.90" height="10.02" fill="#f0b2a2"/>
<rect x="441.00" y="366.03" width="8.70" height="10.02" fill="#b090f8"/>
<rect x="428.20" y="375.05" width="7.90" height="10.02" fill="#f0b8a8"/>
<rect x="441.00" y="375.05" width="8.70" height="10.02" fill="#1010f8"/>
<rect x="428.20" y="384.07" width="7.90" height="10.02" fill="#f0b8a8"/>
<rect x="441.00" y="384.07" width="8.70" height="10.02" fill="#c0a8f8"/>
<rect x="428.20" y="393.10" width="7.90" height="10.02" fill="#f0c0b0"/>
<rect x="441.00" y="393.10" width="8.70" height="10.02" fill="#c0a8f8"/>
<rect x="428.20" y="402.12" width="7.90" height="10.02" fill="#f0b8a8"/>
<rect x="441.00" y="402.12" width="8.70" height="10.02" fill="#f08870"/>
<rect x="428.20" y="411.14" width="7.90" height="10.02" fill="#f0b8a8"/>
<rect x="441.00" y="411.14" width="8.70" height="10.02" fill="#b090f8"/>
<rect x="428.20" y="420.16" width="7.90" height="10.02" fill="#f0b8a8"/>
<rect x="441.00" y="420.16" width="8.70" height="10.02" fill="#9070f8"/>
<rect x="428.20" y="429.18" width="7.90" height="10.02" fill="#f0b8a8"/>
<rect x="441.00" y="429.18" width="8.70" height="10.02" fill="#7040f8"/>
<rect x="428.20" y="438.21" width="7.90" height="10.02" fill="#f0b8a8"/>
<rect x="441.00" y="438.21" width="8.70" height="10.02" fill="#d8c8f8"/>
<rect x="428.20" y="447.23" width="7.90" height="10.02" fill="#f0a090"/>
<rect x="441.00" y="447.23" width="8.70" height="10.02" fill="#f0d8d0"/>
<rect x="428.20" y="456.25" width="7.90" height="10.02" fill="#f0a090"/>
<rect x="441.00" y="456.25" width="8.70" height="10.02" fill="#a888f8"/>
<rect x="428.20" y="465.27" width="7.90" height="10.02" fill="#f0c0b0"/>
<rect x="441.00" y="465.27" width="8.70" height="10.02" fill="#9060f8"/>
<rect x="428.20" y="474.29" width="7.90" height="9.02" fill="#f0c0b0"/>
<rect x="441.00" y="474.29" width="8.70" height="9.02" fill="#f82818"/>
<rect x="454.7" y="232.66" width="16.70" height="5.1" fill="#4a6ab8" stroke="#0a1028" stroke-width="1.1"/>
<text x="484.40" y="239.11" font-size="10.0" font-weight="bold" fill="#111">*</text>
<rect x="454.7" y="241.68" width="16.00" height="5.1" fill="#4a6ab8" stroke="#0a1028" stroke-width="1.1"/>
<text x="484.40" y="248.13" font-size="10.0" font-weight="bold" fill="#111">*</text>
<rect x="454.7" y="250.70" width="20.10" height="5.1" fill="#4a6ab8" stroke="#0a1028" stroke-width="1.1"/>
<text x="484.40" y="257.15" font-size="10.0" font-weight="bold" fill="#111">*</text>
<rect x="454.7" y="259.73" width="17.10" height="5.1" fill="#4a6ab8" stroke="#0a1028" stroke-width="1.1"/>
<text x="484.40" y="266.18" font-size="10.0" font-weight="bold" fill="#111">*</text>
<rect x="454.7" y="268.75" width="14.40" height="5.1" fill="#4a6ab8" stroke="#0a1028" stroke-width="1.1"/>
<text x="484.40" y="275.20" font-size="10.0" font-weight="bold" fill="#111">*</text>
<rect x="454.7" y="277.77" width="14.80" height="5.1" fill="#4a6ab8" stroke="#0a1028" stroke-width="1.1"/>
<text x="484.40" y="284.22" font-size="10.0" font-weight="bold" fill="#111">*</text>
<rect x="454.7" y="286.79" width="16.60" height="5.1" fill="#4a6ab8" stroke="#0a1028" stroke-width="1.1"/>
<text x="484.40" y="293.24" font-size="10.0" font-weight="bold" fill="#111">*</text>
<rect x="454.7" y="295.81" width="16.60" height="5.1" fill="#4a6ab8" stroke="#0a1028" stroke-width="1.1"/>
<text x="484.40" y="302.26" font-size="10.0" font-weight="bold" fill="#111">*</text>
<rect x="454.7" y="304.84" width="16.90" height="5.1" fill="#4a6ab8" stroke="#0a1028" stroke-width="1.1"/>
<text x="484.40" y="311.29" font-size="10.0" font-weight="bold" fill="#111">*</text>
<rect x="454.7" y="313.86" width="16.20" height="5.1" fill="#4a6ab8" stroke="#0a1028" stroke-width="1.1"/>
<text x="484.40" y="320.31" font-size="10.0" font-weight="bold" fill="#111">*</text>
<rect x="454.7" y="322.88" width="18.00" height="5.1" fill="#4a6ab8" stroke="#0a1028" stroke-width="1.1"/>
<text x="484.40" y="329.33" font-size="10.0" font-weight="bold" fill="#111">*</text>
<rect x="454.7" y="331.90" width="17.60" height="5.1" fill="#4a6ab8" stroke="#0a1028" stroke-width="1.1"/>
<text x="484.40" y="338.35" font-size="10.0" font-weight="bold" fill="#111">*</text>
<rect x="454.7" y="340.93" width="15.30" height="5.1" fill="#4a6ab8" stroke="#0a1028" stroke-width="1.1"/>
<text x="484.40" y="347.38" font-size="10.0" font-weight="bold" fill="#111">*</text>
<rect x="454.7" y="349.95" width="18.00" height="5.1" fill="#4a6ab8" stroke="#0a1028" stroke-width="1.1"/>
<text x="484.40" y="356.40" font-size="10.0" font-weight="bold" fill="#111">*</text>
<rect x="454.7" y="358.97" width="14.90" height="5.1" fill="#4a6ab8" stroke="#0a1028" stroke-width="1.1"/>
<text x="484.40" y="365.42" font-size="10.0" font-weight="bold" fill="#111">*</text>
<rect x="454.7" y="367.99" width="17.10" height="5.1" fill="#4a6ab8" stroke="#0a1028" stroke-width="1.1"/>
<text x="484.40" y="374.44" font-size="10.0" font-weight="bold" fill="#111">*</text>
<rect x="454.7" y="377.01" width="16.60" height="5.1" fill="#4a6ab8" stroke="#0a1028" stroke-width="1.1"/>
<text x="484.40" y="383.46" font-size="10.0" font-weight="bold" fill="#111">*</text>
<rect x="454.7" y="386.03" width="17.70" height="5.1" fill="#4a6ab8" stroke="#0a1028" stroke-width="1.1"/>
<text x="484.40" y="392.48" font-size="10.0" font-weight="bold" fill="#111">*</text>
<rect x="454.7" y="395.06" width="17.10" height="5.1" fill="#4a6ab8" stroke="#0a1028" stroke-width="1.1"/>
<text x="484.40" y="401.51" font-size="10.0" font-weight="bold" fill="#111">*</text>
<rect x="454.7" y="404.08" width="19.30" height="5.1" fill="#4a6ab8" stroke="#0a1028" stroke-width="1.1"/>
<text x="484.40" y="410.53" font-size="10.0" font-weight="bold" fill="#111">*</text>
<rect x="454.7" y="413.10" width="17.10" height="5.1" fill="#4a6ab8" stroke="#0a1028" stroke-width="1.1"/>
<text x="484.40" y="419.55" font-size="10.0" font-weight="bold" fill="#111">*</text>
<rect x="454.7" y="422.12" width="16.60" height="5.1" fill="#4a6ab8" stroke="#0a1028" stroke-width="1.1"/>
<text x="484.40" y="428.57" font-size="10.0" font-weight="bold" fill="#111">*</text>
<rect x="454.7" y="431.14" width="20.40" height="5.1" fill="#4a6ab8" stroke="#0a1028" stroke-width="1.1"/>
<text x="484.40" y="437.59" font-size="10.0" font-weight="bold" fill="#111">*</text>
<rect x="454.7" y="440.17" width="21.40" height="5.1" fill="#4a6ab8" stroke="#0a1028" stroke-width="1.1"/>
<text x="484.40" y="446.62" font-size="10.0" font-weight="bold" fill="#111">*</text>
<rect x="454.7" y="449.19" width="23.20" height="5.1" fill="#4a6ab8" stroke="#0a1028" stroke-width="1.1"/>
<text x="484.40" y="455.64" font-size="10.0" font-weight="bold" fill="#111">*</text>
<rect x="454.7" y="458.21" width="21.40" height="5.1" fill="#4a6ab8" stroke="#0a1028" stroke-width="1.1"/>
<text x="484.40" y="464.66" font-size="10.0" font-weight="bold" fill="#111">*</text>
<rect x="454.7" y="467.23" width="20.80" height="5.1" fill="#4a6ab8" stroke="#0a1028" stroke-width="1.1"/>
<text x="484.40" y="473.68" font-size="10.0" font-weight="bold" fill="#111">*</text>
<rect x="454.7" y="476.25" width="20.40" height="5.1" fill="#4a6ab8" stroke="#0a1028" stroke-width="1.1"/>
<text x="484.40" y="482.70" font-size="10.0" font-weight="bold" fill="#111">**</text>
<line x1="454.10" y1="483.40" x2="480.00" y2="483.40" stroke="#111" stroke-width="0.9"/>
<line x1="454.60" y1="483.40" x2="454.60" y2="485.00" stroke="#111" stroke-width="0.8"/>
<text x="457.00" y="490.20" font-size="7.2" text-anchor="middle" fill="#222" transform="rotate(-90 457.00 490.20)" stroke="#222" stroke-width="0.2">0</text>
<line x1="464.30" y1="483.40" x2="464.30" y2="485.00" stroke="#111" stroke-width="0.8"/>
<text x="466.70" y="490.20" font-size="7.2" text-anchor="middle" fill="#222" transform="rotate(-90 466.70 490.20)" stroke="#222" stroke-width="0.2">1</text>
<line x1="474.00" y1="483.40" x2="474.00" y2="485.00" stroke="#111" stroke-width="0.8"/>
<text x="476.40" y="490.20" font-size="7.2" text-anchor="middle" fill="#222" transform="rotate(-90 476.40 490.20)" stroke="#222" stroke-width="0.2">2</text>
<text x="467.20" y="502.00" font-size="10.5" text-anchor="middle" fill="#111" stroke="#111" stroke-width="0.2">VIP</text>
<text x="395.40" y="486.80" font-size="10.0" text-anchor="end" fill="#111" transform="rotate(-90 395.40 486.80)" stroke="#111" stroke-width="0.2">HMDB Class</text>
<text x="436.20" y="486.80" font-size="10.0" text-anchor="end" fill="#111" transform="rotate(-90 436.20 486.80)" stroke="#111" stroke-width="0.2">Log2(FC)</text>
<text x="449.40" y="486.80" font-size="10.0" text-anchor="end" fill="#111" transform="rotate(-90 449.40 486.80)" stroke="#111" stroke-width="0.2">−Lg(p)</text>
<line x1="397.40" y1="244.23" x2="406.30" y2="244.23" stroke="#222" stroke-width="0.9"/>
<line x1="397.40" y1="253.25" x2="406.30" y2="253.25" stroke="#222" stroke-width="0.9"/>
<line x1="406.30" y1="244.23" x2="406.30" y2="253.25" stroke="#222" stroke-width="0.9"/>
<line x1="397.40" y1="235.21" x2="411.70" y2="235.21" stroke="#222" stroke-width="0.9"/>
<line x1="406.30" y1="248.74" x2="411.70" y2="248.74" stroke="#222" stroke-width="0.9"/>
<line x1="411.70" y1="235.21" x2="411.70" y2="248.74" stroke="#222" stroke-width="0.9"/>
<line x1="397.40" y1="271.30" x2="408.60" y2="271.30" stroke="#222" stroke-width="0.9"/>
<line x1="397.40" y1="280.32" x2="408.60" y2="280.32" stroke="#222" stroke-width="0.9"/>
<line x1="408.60" y1="271.30" x2="408.60" y2="280.32" stroke="#222" stroke-width="0.9"/>
<line x1="397.40" y1="262.28" x2="413.60" y2="262.28" stroke="#222" stroke-width="0.9"/>
<line x1="408.60" y1="275.81" x2="413.60" y2="275.81" stroke="#222" stroke-width="0.9"/>
<line x1="413.60" y1="262.28" x2="413.60" y2="275.81" stroke="#222" stroke-width="0.9"/>
<line x1="397.40" y1="289.34" x2="402.90" y2="289.34" stroke="#222" stroke-width="0.9"/>
<line x1="397.40" y1="298.37" x2="402.90" y2="298.37" stroke="#222" stroke-width="0.9"/>
<line x1="402.90" y1="289.34" x2="402.90" y2="298.37" stroke="#222" stroke-width="0.9"/>
<line x1="402.90" y1="293.85" x2="408.10" y2="293.85" stroke="#222" stroke-width="0.9"/>
<line x1="397.40" y1="307.39" x2="408.10" y2="307.39" stroke="#222" stroke-width="0.9"/>
<line x1="408.10" y1="293.85" x2="408.10" y2="307.39" stroke="#222" stroke-width="0.9"/>
<line x1="397.40" y1="325.43" x2="402.00" y2="325.43" stroke="#222" stroke-width="0.9"/>
<line x1="397.40" y1="334.45" x2="402.00" y2="334.45" stroke="#222" stroke-width="0.9"/>
<line x1="402.00" y1="325.43" x2="402.00" y2="334.45" stroke="#222" stroke-width="0.9"/>
<line x1="397.40" y1="316.41" x2="404.10" y2="316.41" stroke="#222" stroke-width="0.9"/>
<line x1="402.00" y1="329.94" x2="404.10" y2="329.94" stroke="#222" stroke-width="0.9"/>
<line x1="404.10" y1="316.41" x2="404.10" y2="329.94" stroke="#222" stroke-width="0.9"/>
<line x1="404.10" y1="323.18" x2="406.10" y2="323.18" stroke="#222" stroke-width="0.9"/>
<line x1="397.40" y1="343.48" x2="406.10" y2="343.48" stroke="#222" stroke-width="0.9"/>
<line x1="406.10" y1="323.18" x2="406.10" y2="343.48" stroke="#222" stroke-width="0.9"/>
<line x1="397.40" y1="352.50" x2="404.10" y2="352.50" stroke="#222" stroke-width="0.9"/>
<line x1="397.40" y1="361.52" x2="404.10" y2="361.52" stroke="#222" stroke-width="0.9"/>
<line x1="404.10" y1="352.50" x2="404.10" y2="361.52" stroke="#222" stroke-width="0.9"/>
<line x1="406.10" y1="333.33" x2="409.60" y2="333.33" stroke="#222" stroke-width="0.9"/>
<line x1="404.10" y1="357.01" x2="409.60" y2="357.01" stroke="#222" stroke-width="0.9"/>
<line x1="409.60" y1="333.33" x2="409.60" y2="357.01" stroke="#222" stroke-width="0.9"/>
<line x1="408.10" y1="300.62" x2="413.60" y2="300.62" stroke="#222" stroke-width="0.9"/>
<line x1="409.60" y1="345.17" x2="413.60" y2="345.17" stroke="#222" stroke-width="0.9"/>
<line x1="413.60" y1="300.62" x2="413.60" y2="345.17" stroke="#222" stroke-width="0.9"/>
<line x1="413.60" y1="269.04" x2="414.10" y2="269.04" stroke="#222" stroke-width="0.9"/>
<line x1="413.60" y1="322.89" x2="414.10" y2="322.89" stroke="#222" stroke-width="0.9"/>
<line x1="414.10" y1="269.04" x2="414.10" y2="322.89" stroke="#222" stroke-width="0.9"/>
<line x1="411.70" y1="241.98" x2="416.70" y2="241.98" stroke="#222" stroke-width="0.9"/>
<line x1="414.10" y1="295.97" x2="416.70" y2="295.97" stroke="#222" stroke-width="0.9"/>
<line x1="416.70" y1="241.98" x2="416.70" y2="295.97" stroke="#222" stroke-width="0.9"/>
<line x1="397.40" y1="370.54" x2="406.60" y2="370.54" stroke="#222" stroke-width="0.9"/>
<line x1="397.40" y1="379.56" x2="406.60" y2="379.56" stroke="#222" stroke-width="0.9"/>
<line x1="406.60" y1="370.54" x2="406.60" y2="379.56" stroke="#222" stroke-width="0.9"/>
<line x1="397.40" y1="397.61" x2="405.60" y2="397.61" stroke="#222" stroke-width="0.9"/>
<line x1="397.40" y1="406.63" x2="405.60" y2="406.63" stroke="#222" stroke-width="0.9"/>
<line x1="405.60" y1="397.61" x2="405.60" y2="406.63" stroke="#222" stroke-width="0.9"/>
<line x1="397.40" y1="388.58" x2="408.70" y2="388.58" stroke="#222" stroke-width="0.9"/>
<line x1="405.60" y1="402.12" x2="408.70" y2="402.12" stroke="#222" stroke-width="0.9"/>
<line x1="408.70" y1="388.58" x2="408.70" y2="402.12" stroke="#222" stroke-width="0.9"/>
<line x1="397.40" y1="415.65" x2="406.60" y2="415.65" stroke="#222" stroke-width="0.9"/>
<line x1="397.40" y1="424.67" x2="406.60" y2="424.67" stroke="#222" stroke-width="0.9"/>
<line x1="406.60" y1="415.65" x2="406.60" y2="424.67" stroke="#222" stroke-width="0.9"/>
<line x1="408.70" y1="395.35" x2="410.10" y2="395.35" stroke="#222" stroke-width="0.9"/>
<line x1="406.60" y1="420.16" x2="410.10" y2="420.16" stroke="#222" stroke-width="0.9"/>
<line x1="410.10" y1="395.35" x2="410.10" y2="420.16" stroke="#222" stroke-width="0.9"/>
<line x1="397.40" y1="433.69" x2="404.10" y2="433.69" stroke="#222" stroke-width="0.9"/>
<line x1="397.40" y1="442.72" x2="404.10" y2="442.72" stroke="#222" stroke-width="0.9"/>
<line x1="404.10" y1="433.69" x2="404.10" y2="442.72" stroke="#222" stroke-width="0.9"/>
<line x1="397.40" y1="451.74" x2="406.80" y2="451.74" stroke="#222" stroke-width="0.9"/>
<line x1="397.40" y1="460.76" x2="406.80" y2="460.76" stroke="#222" stroke-width="0.9"/>
<line x1="406.80" y1="451.74" x2="406.80" y2="460.76" stroke="#222" stroke-width="0.9"/>
<line x1="406.80" y1="456.25" x2="408.10" y2="456.25" stroke="#222" stroke-width="0.9"/>
<line x1="397.40" y1="469.78" x2="408.10" y2="469.78" stroke="#222" stroke-width="0.9"/>
<line x1="408.10" y1="456.25" x2="408.10" y2="469.78" stroke="#222" stroke-width="0.9"/>
<line x1="404.10" y1="438.21" x2="410.10" y2="438.21" stroke="#222" stroke-width="0.9"/>
<line x1="408.10" y1="463.02" x2="410.10" y2="463.02" stroke="#222" stroke-width="0.9"/>
<line x1="410.10" y1="438.21" x2="410.10" y2="463.02" stroke="#222" stroke-width="0.9"/>
<line x1="410.10" y1="450.61" x2="412.60" y2="450.61" stroke="#222" stroke-width="0.9"/>
<line x1="397.40" y1="478.81" x2="412.60" y2="478.81" stroke="#222" stroke-width="0.9"/>
<line x1="412.60" y1="450.61" x2="412.60" y2="478.81" stroke="#222" stroke-width="0.9"/>
<line x1="410.10" y1="407.76" x2="413.60" y2="407.76" stroke="#222" stroke-width="0.9"/>
<line x1="412.60" y1="464.71" x2="413.60" y2="464.71" stroke="#222" stroke-width="0.9"/>
<line x1="413.60" y1="407.76" x2="413.60" y2="464.71" stroke="#222" stroke-width="0.9"/>
<line x1="406.60" y1="375.05" x2="416.40" y2="375.05" stroke="#222" stroke-width="0.9"/>
<line x1="413.60" y1="436.23" x2="416.40" y2="436.23" stroke="#222" stroke-width="0.9"/>
<line x1="416.40" y1="375.05" x2="416.40" y2="436.23" stroke="#222" stroke-width="0.9"/>
<line x1="416.70" y1="268.97" x2="422.70" y2="268.97" stroke="#222" stroke-width="0.9"/>
<line x1="416.40" y1="405.64" x2="422.70" y2="405.64" stroke="#222" stroke-width="0.9"/>
<line x1="422.70" y1="268.97" x2="422.70" y2="405.64" stroke="#222" stroke-width="0.9"/>
<text x="497.40" y="236.60" font-size="8.6" font-weight="bold" fill="#111">Scaled Intensity</text>
<defs><linearGradient id="gSI" x1="0" y1="0" x2="0" y2="1"><stop offset="0" stop-color="#ff0000"/><stop offset="0.5" stop-color="#000000"/><stop offset="1" stop-color="#00ff00"/></linearGradient><linearGradient id="gFC" x1="0" y1="0" x2="0" y2="1"><stop offset="0" stop-color="#ff2010"/><stop offset="0.5" stop-color="#ffffff"/><stop offset="1" stop-color="#2010ff"/></linearGradient><linearGradient id="gLP" x1="0" y1="0" x2="0" y2="1"><stop offset="0" stop-color="#ff2010"/><stop offset="0.5" stop-color="#ffffff"/><stop offset="1" stop-color="#2010ff"/></linearGradient></defs>
<rect x="497.20" y="240.80" width="10.40" height="53.70" fill="url(#gSI)"/>
<line x1="497.20" y1="244.20" x2="499.40" y2="244.20" stroke="#fff" stroke-width="0.6"/>
<line x1="505.40" y1="244.20" x2="507.60" y2="244.20" stroke="#fff" stroke-width="0.6"/>
<text x="509.60" y="247.30" font-size="8.6" fill="#111" stroke="#111" stroke-width="0.2">2</text>
<line x1="497.20" y1="256.27" x2="499.40" y2="256.27" stroke="#fff" stroke-width="0.6"/>
<line x1="505.40" y1="256.27" x2="507.60" y2="256.27" stroke="#fff" stroke-width="0.6"/>
<text x="509.60" y="259.37" font-size="8.6" fill="#111" stroke="#111" stroke-width="0.2">1</text>
<line x1="497.20" y1="268.34" x2="499.40" y2="268.34" stroke="#fff" stroke-width="0.6"/>
<line x1="505.40" y1="268.34" x2="507.60" y2="268.34" stroke="#fff" stroke-width="0.6"/>
<text x="509.60" y="271.44" font-size="8.6" fill="#111" stroke="#111" stroke-width="0.2">0</text>
<line x1="497.20" y1="280.41" x2="499.40" y2="280.41" stroke="#fff" stroke-width="0.6"/>
<line x1="505.40" y1="280.41" x2="507.60" y2="280.41" stroke="#fff" stroke-width="0.6"/>
<text x="509.60" y="283.51" font-size="8.6" fill="#111" stroke="#111" stroke-width="0.2">−1</text>
<line x1="497.20" y1="292.48" x2="499.40" y2="292.48" stroke="#fff" stroke-width="0.6"/>
<line x1="505.40" y1="292.48" x2="507.60" y2="292.48" stroke="#fff" stroke-width="0.6"/>
<text x="509.60" y="295.58" font-size="8.6" fill="#111" stroke="#111" stroke-width="0.2">−2</text>
<text x="583.80" y="236.60" font-size="8.6" font-weight="bold" fill="#111">Group</text>
<rect x="583.40" y="241.90" width="9.60" height="9.60" fill="#55a0f8"/>
<rect x="583.40" y="251.50" width="9.60" height="9.60" fill="#f0902a"/>
<text x="597.00" y="249.50" font-size="8.6" fill="#111" stroke="#111" stroke-width="0.2">MOD</text>
<text x="597.00" y="259.50" font-size="8.6" fill="#111" stroke="#111" stroke-width="0.2">SMD</text>
<text x="497.40" y="310.00" font-size="8.6" font-weight="bold" fill="#111">HMDB Class</text>
<rect x="497.70" y="315.50" width="9.40" height="9.30" fill="#b83a2e"/>
<text x="510.00" y="323.20" font-size="8.65" fill="#111" stroke="#111" stroke-width="0.2">Benzenoids</text>
<rect x="497.70" y="325.26" width="9.40" height="9.30" fill="#3a7cc0"/>
<text x="510.00" y="332.96" font-size="8.65" fill="#111" stroke="#111" stroke-width="0.2">Lipids and lipid−like molecules</text>
<rect x="497.70" y="335.02" width="9.40" height="9.30" fill="#e0883a"/>
<text x="510.00" y="342.72" font-size="8.65" fill="#111" stroke="#111" stroke-width="0.2">Organic acids and derivatives</text>
<rect x="497.70" y="344.78" width="9.40" height="9.30" fill="#3a8a52"/>
<text x="510.00" y="352.48" font-size="8.65" fill="#111" stroke="#111" stroke-width="0.2">Organic oxygen compounds</text>
<rect x="497.70" y="354.54" width="9.40" height="9.30" fill="#7670b8"/>
<text x="510.00" y="362.24" font-size="8.65" fill="#111" stroke="#111" stroke-width="0.2">Organoheterocyclic compounds</text>
<rect x="497.70" y="364.30" width="9.40" height="9.30" fill="#78a0b0"/>
<text x="510.00" y="372.00" font-size="8.65" fill="#111" stroke="#111" stroke-width="0.2">Phenylpropanoids and polyketides</text>
<rect x="497.70" y="374.06" width="9.40" height="9.30" fill="#f0d890"/>
<text x="510.00" y="381.76" font-size="8.65" fill="#111" stroke="#111" stroke-width="0.2">Unknown</text>
<text x="497.40" y="399.60" font-size="8.6" font-weight="bold" fill="#111">Log2(FC)</text>
<rect x="497.20" y="405.00" width="10.40" height="52.40" fill="url(#gFC)"/>
<line x1="497.20" y1="407.90" x2="499.40" y2="407.90" stroke="#fff" stroke-width="0.6"/>
<line x1="505.40" y1="407.90" x2="507.60" y2="407.90" stroke="#fff" stroke-width="0.6"/>
<text x="509.60" y="411.00" font-size="8.6" fill="#111" stroke="#111" stroke-width="0.2">5</text>
<line x1="497.20" y1="431.40" x2="499.40" y2="431.40" stroke="#fff" stroke-width="0.6"/>
<line x1="505.40" y1="431.40" x2="507.60" y2="431.40" stroke="#fff" stroke-width="0.6"/>
<text x="509.60" y="434.50" font-size="8.6" fill="#111" stroke="#111" stroke-width="0.2">0</text>
<line x1="497.20" y1="456.30" x2="499.40" y2="456.30" stroke="#fff" stroke-width="0.6"/>
<line x1="505.40" y1="456.30" x2="507.60" y2="456.30" stroke="#fff" stroke-width="0.6"/>
<text x="509.60" y="459.40" font-size="8.6" fill="#111" stroke="#111" stroke-width="0.2">−5</text>
<text x="552.00" y="399.60" font-size="8.6" font-weight="bold" fill="#111">-Lg(p)</text>
<defs><linearGradient id="gLP2" x1="0" y1="0" x2="0" y2="1"><stop offset="0" stop-color="#ff2010"/><stop offset="0.5" stop-color="#ffffff"/><stop offset="1" stop-color="#1a10ff"/></linearGradient></defs>
<rect x="552.60" y="405.00" width="10.80" height="64.10" fill="url(#gLP2)"/>
<line x1="552.60" y1="407.90" x2="554.80" y2="407.90" stroke="#fff" stroke-width="0.6"/>
<line x1="561.20" y1="407.90" x2="563.40" y2="407.90" stroke="#fff" stroke-width="0.6"/>
<text x="565.40" y="411.00" font-size="8.6" fill="#111" stroke="#111" stroke-width="0.2">2.2</text>
<line x1="552.60" y1="419.80" x2="554.80" y2="419.80" stroke="#fff" stroke-width="0.6"/>
<line x1="561.20" y1="419.80" x2="563.40" y2="419.80" stroke="#fff" stroke-width="0.6"/>
<text x="565.40" y="422.90" font-size="8.6" fill="#111" stroke="#111" stroke-width="0.2">2</text>
<line x1="552.60" y1="431.70" x2="554.80" y2="431.70" stroke="#fff" stroke-width="0.6"/>
<line x1="561.20" y1="431.70" x2="563.40" y2="431.70" stroke="#fff" stroke-width="0.6"/>
<text x="565.40" y="434.80" font-size="8.6" fill="#111" stroke="#111" stroke-width="0.2">1.8</text>
<line x1="552.60" y1="443.60" x2="554.80" y2="443.60" stroke="#fff" stroke-width="0.6"/>
<line x1="561.20" y1="443.60" x2="563.40" y2="443.60" stroke="#fff" stroke-width="0.6"/>
<text x="565.40" y="446.70" font-size="8.6" fill="#111" stroke="#111" stroke-width="0.2">1.6</text>
<line x1="552.60" y1="455.50" x2="554.80" y2="455.50" stroke="#fff" stroke-width="0.6"/>
<line x1="561.20" y1="455.50" x2="563.40" y2="455.50" stroke="#fff" stroke-width="0.6"/>
<text x="565.40" y="458.60" font-size="8.6" fill="#111" stroke="#111" stroke-width="0.2">1.4</text>
<line x1="552.60" y1="467.40" x2="554.80" y2="467.40" stroke="#fff" stroke-width="0.6"/>
<line x1="561.20" y1="467.40" x2="563.40" y2="467.40" stroke="#fff" stroke-width="0.6"/>
<text x="565.40" y="470.50" font-size="8.6" fill="#111" stroke="#111" stroke-width="0.2">1.2</text>
<rect x="100.25" y="584.00" width="12.23" height="12.19" fill="#80a8bc"/>
<rect x="111.48" y="584.00" width="12.23" height="12.19" fill="#b0ccd8"/>
<rect x="122.71" y="584.00" width="12.23" height="12.19" fill="#b0ccd8"/>
<rect x="133.94" y="584.00" width="12.23" height="12.19" fill="#a8c8d4"/>
<rect x="145.17" y="584.00" width="12.23" height="12.19" fill="#a8c4d0"/>
<rect x="156.40" y="584.00" width="12.23" height="12.19" fill="#a8c4d0"/>
<rect x="167.63" y="584.00" width="12.23" height="12.19" fill="#98bccc"/>
<rect x="178.86" y="584.00" width="12.23" height="12.19" fill="#a8c8d4"/>
<rect x="190.09" y="584.00" width="12.23" height="12.19" fill="#b0ccd8"/>
<rect x="201.32" y="584.00" width="12.23" height="12.19" fill="#a8c8d4"/>
<rect x="212.55" y="584.00" width="12.23" height="12.19" fill="#3a7294"/>
<rect x="223.78" y="584.00" width="12.23" height="12.19" fill="#a8c8d4"/>
<rect x="235.01" y="584.00" width="12.23" height="12.19" fill="#a0c0d0"/>
<rect x="246.24" y="584.00" width="12.23" height="12.19" fill="#b0ccd8"/>
<rect x="257.47" y="584.00" width="12.23" height="12.19" fill="#a0c0d0"/>
<rect x="268.70" y="584.00" width="12.23" height="12.19" fill="#f8eaf6"/>
<rect x="279.93" y="584.00" width="12.23" height="12.19" fill="#e0ecf0"/>
<rect x="291.16" y="584.00" width="12.23" height="12.19" fill="#d4e4ea"/>
<rect x="302.39" y="584.00" width="12.23" height="12.19" fill="#eaf2f4"/>
<rect x="313.62" y="584.00" width="12.23" height="12.19" fill="#f0d0ec"/>
<rect x="324.85" y="584.00" width="12.23" height="12.19" fill="#e8a8e0"/>
<rect x="336.08" y="584.00" width="12.23" height="12.19" fill="#fcf6fa"/>
<rect x="347.31" y="584.00" width="12.23" height="12.19" fill="#d860c8"/>
<rect x="358.54" y="584.00" width="12.23" height="12.19" fill="#d040b8"/>
<rect x="369.77" y="584.00" width="12.23" height="12.19" fill="#e080d4"/>
<rect x="381.00" y="584.00" width="12.23" height="12.19" fill="#e8a8e0"/>
<rect x="392.23" y="584.00" width="12.23" height="12.19" fill="#e498d8"/>
<rect x="403.46" y="584.00" width="11.23" height="12.19" fill="#f0c8e8"/>
<rect x="100.25" y="595.19" width="12.23" height="12.19" fill="#8cb0c4"/>
<rect x="111.48" y="595.19" width="12.23" height="12.19" fill="#6c9cb4"/>
<rect x="122.71" y="595.19" width="12.23" height="12.19" fill="#78a4ba"/>
<rect x="133.94" y="595.19" width="12.23" height="12.19" fill="#6c9cb4"/>
<rect x="145.17" y="595.19" width="12.23" height="12.19" fill="#90b4c6"/>
<rect x="156.40" y="595.19" width="12.23" height="12.19" fill="#a8c8d4"/>
<rect x="167.63" y="595.19" width="12.23" height="12.19" fill="#90b4c6"/>
<rect x="178.86" y="595.19" width="12.23" height="12.19" fill="#98bccc"/>
<rect x="190.09" y="595.19" width="12.23" height="12.19" fill="#80a8bc"/>
<rect x="201.32" y="595.19" width="12.23" height="12.19" fill="#90b4c6"/>
<rect x="212.55" y="595.19" width="12.23" height="12.19" fill="#4a84a2"/>
<rect x="223.78" y="595.19" width="12.23" height="12.19" fill="#6c9cb4"/>
<rect x="235.01" y="595.19" width="12.23" height="12.19" fill="#6498b0"/>
<rect x="246.24" y="595.19" width="12.23" height="12.19" fill="#88aec2"/>
<rect x="257.47" y="595.19" width="12.23" height="12.19" fill="#80a8bc"/>
<rect x="268.70" y="595.19" width="12.23" height="12.19" fill="#e8a0dc"/>
<rect x="279.93" y="595.19" width="12.23" height="12.19" fill="#f4daf0"/>
<rect x="291.16" y="595.19" width="12.23" height="12.19" fill="#f0c8e8"/>
<rect x="302.39" y="595.19" width="12.23" height="12.19" fill="#f8ecf6"/>
<rect x="313.62" y="595.19" width="12.23" height="12.19" fill="#e8a0dc"/>
<rect x="324.85" y="595.19" width="12.23" height="12.19" fill="#f0d0ec"/>
<rect x="336.08" y="595.19" width="12.23" height="12.19" fill="#faf2f8"/>
<rect x="347.31" y="595.19" width="12.23" height="12.19" fill="#e080d4"/>
<rect x="358.54" y="595.19" width="12.23" height="12.19" fill="#d040b8"/>
<rect x="369.77" y="595.19" width="12.23" height="12.19" fill="#d870cc"/>
<rect x="381.00" y="595.19" width="12.23" height="12.19" fill="#e088d4"/>
<rect x="392.23" y="595.19" width="12.23" height="12.19" fill="#f0c0e8"/>
<rect x="403.46" y="595.19" width="11.23" height="12.19" fill="#f0c0e8"/>
<rect x="100.25" y="606.38" width="12.23" height="12.19" fill="#88aec2"/>
<rect x="111.48" y="606.38" width="12.23" height="12.19" fill="#90b4c6"/>
<rect x="122.71" y="606.38" width="12.23" height="12.19" fill="#a8c8d4"/>
<rect x="133.94" y="606.38" width="12.23" height="12.19" fill="#88aec2"/>
<rect x="145.17" y="606.38" width="12.23" height="12.19" fill="#90b4c6"/>
<rect x="156.40" y="606.38" width="12.23" height="12.19" fill="#88aec2"/>
<rect x="167.63" y="606.38" width="12.23" height="12.19" fill="#88aec2"/>
<rect x="178.86" y="606.38" width="12.23" height="12.19" fill="#90b4c6"/>
<rect x="190.09" y="606.38" width="12.23" height="12.19" fill="#98bccc"/>
<rect x="201.32" y="606.38" width="12.23" height="12.19" fill="#90b4c6"/>
<rect x="212.55" y="606.38" width="12.23" height="12.19" fill="#5890aa"/>
<rect x="223.78" y="606.38" width="12.23" height="12.19" fill="#a8c8d4"/>
<rect x="235.01" y="606.38" width="12.23" height="12.19" fill="#98bccc"/>
<rect x="246.24" y="606.38" width="12.23" height="12.19" fill="#a8c8d4"/>
<rect x="257.47" y="606.38" width="12.23" height="12.19" fill="#90b4c6"/>
<rect x="268.70" y="606.38" width="12.23" height="12.19" fill="#f4e4f2"/>
<rect x="279.93" y="606.38" width="12.23" height="12.19" fill="#f0f4f6"/>
<rect x="291.16" y="606.38" width="12.23" height="12.19" fill="#f4e0f0"/>
<rect x="302.39" y="606.38" width="12.23" height="12.19" fill="#f4f8f8"/>
<rect x="313.62" y="606.38" width="12.23" height="12.19" fill="#e8a0dc"/>
<rect x="324.85" y="606.38" width="12.23" height="12.19" fill="#f0d0ec"/>
<rect x="336.08" y="606.38" width="12.23" height="12.19" fill="#faf2f8"/>
<rect x="347.31" y="606.38" width="12.23" height="12.19" fill="#e088d4"/>
<rect x="358.54" y="606.38" width="12.23" height="12.19" fill="#d040b8"/>
<rect x="369.77" y="606.38" width="12.23" height="12.19" fill="#e080d4"/>
<rect x="381.00" y="606.38" width="12.23" height="12.19" fill="#e898dc"/>
<rect x="392.23" y="606.38" width="12.23" height="12.19" fill="#f4d8f0"/>
<rect x="403.46" y="606.38" width="11.23" height="12.19" fill="#f0c8e8"/>
<rect x="100.25" y="617.57" width="12.23" height="12.19" fill="#7aa4ba"/>
<rect x="111.48" y="617.57" width="12.23" height="12.19" fill="#74a0b8"/>
<rect x="122.71" y="617.57" width="12.23" height="12.19" fill="#5e94ae"/>
<rect x="133.94" y="617.57" width="12.23" height="12.19" fill="#6a9cb4"/>
<rect x="145.17" y="617.57" width="12.23" height="12.19" fill="#6a9cb4"/>
<rect x="156.40" y="617.57" width="12.23" height="12.19" fill="#6a9cb4"/>
<rect x="167.63" y="617.57" width="12.23" height="12.19" fill="#6498b0"/>
<rect x="178.86" y="617.57" width="12.23" height="12.19" fill="#74a0b8"/>
<rect x="190.09" y="617.57" width="12.23" height="12.19" fill="#6498b0"/>
<rect x="201.32" y="617.57" width="12.23" height="12.19" fill="#6498b0"/>
<rect x="212.55" y="617.57" width="12.23" height="12.19" fill="#80a8bc"/>
<rect x="223.78" y="617.57" width="12.23" height="12.19" fill="#6498b0"/>
<rect x="235.01" y="617.57" width="12.23" height="12.19" fill="#5890aa"/>
<rect x="246.24" y="617.57" width="12.23" height="12.19" fill="#74a0b8"/>
<rect x="257.47" y="617.57" width="12.23" height="12.19" fill="#5890aa"/>
<rect x="268.70" y="617.57" width="12.23" height="12.19" fill="#e080d4"/>
<rect x="279.93" y="617.57" width="12.23" height="12.19" fill="#e8a8e0"/>
<rect x="291.16" y="617.57" width="12.23" height="12.19" fill="#e080d4"/>
<rect x="302.39" y="617.57" width="12.23" height="12.19" fill="#d860c8"/>
<rect x="313.62" y="617.57" width="12.23" height="12.19" fill="#e080d4"/>
<rect x="324.85" y="617.57" width="12.23" height="12.19" fill="#faf2f8"/>
<rect x="336.08" y="617.57" width="12.23" height="12.19" fill="#f0b8e4"/>
<rect x="347.31" y="617.57" width="12.23" height="12.19" fill="#f8eaf6"/>
<rect x="358.54" y="617.57" width="12.23" height="12.19" fill="#f4daf0"/>
<rect x="369.77" y="617.57" width="12.23" height="12.19" fill="#e8a8e0"/>
<rect x="381.00" y="617.57" width="12.23" height="12.19" fill="#f0c8e8"/>
<rect x="392.23" y="617.57" width="12.23" height="12.19" fill="#e8a8e0"/>
<rect x="403.46" y="617.57" width="11.23" height="12.19" fill="#e490d8"/>
<rect x="100.25" y="628.76" width="12.23" height="12.19" fill="#6a9cb4"/>
<rect x="111.48" y="628.76" width="12.23" height="12.19" fill="#6a9cb4"/>
<rect x="122.71" y="628.76" width="12.23" height="12.19" fill="#74a0b8"/>
<rect x="133.94" y="628.76" width="12.23" height="12.19" fill="#6a9cb4"/>
<rect x="145.17" y="628.76" width="12.23" height="12.19" fill="#5e94ae"/>
<rect x="156.40" y="628.76" width="12.23" height="12.19" fill="#5e94ae"/>
<rect x="167.63" y="628.76" width="12.23" height="12.19" fill="#4a84a2"/>
<rect x="178.86" y="628.76" width="12.23" height="12.19" fill="#3e7898"/>
<rect x="190.09" y="628.76" width="12.23" height="12.19" fill="#c0d8e0"/>
<rect x="201.32" y="628.76" width="12.23" height="12.19" fill="#c0d8e0"/>
<rect x="212.55" y="628.76" width="12.23" height="12.19" fill="#4a84a2"/>
<rect x="223.78" y="628.76" width="12.23" height="12.19" fill="#6498b0"/>
<rect x="235.01" y="628.76" width="12.23" height="12.19" fill="#5890aa"/>
<rect x="246.24" y="628.76" width="12.23" height="12.19" fill="#5088a6"/>
<rect x="257.47" y="628.76" width="12.23" height="12.19" fill="#3e7898"/>
<rect x="268.70" y="628.76" width="12.23" height="12.19" fill="#e088d4"/>
<rect x="279.93" y="628.76" width="12.23" height="12.19" fill="#e8a0dc"/>
<rect x="291.16" y="628.76" width="12.23" height="12.19" fill="#e080d4"/>
<rect x="302.39" y="628.76" width="12.23" height="12.19" fill="#e8a8e0"/>
<rect x="313.62" y="628.76" width="12.23" height="12.19" fill="#d040b8"/>
<rect x="324.85" y="628.76" width="12.23" height="12.19" fill="#d860c8"/>
<rect x="336.08" y="628.76" width="12.23" height="12.19" fill="#d850c0"/>
<rect x="347.31" y="628.76" width="12.23" height="12.19" fill="#e080d4"/>
<rect x="358.54" y="628.76" width="12.23" height="12.19" fill="#e070d0"/>
<rect x="369.77" y="628.76" width="12.23" height="12.19" fill="#f4d0ec"/>
<rect x="381.00" y="628.76" width="12.23" height="12.19" fill="#e490d8"/>
<rect x="392.23" y="628.76" width="12.23" height="12.19" fill="#e088d4"/>
<rect x="403.46" y="628.76" width="11.23" height="12.19" fill="#e088d4"/>
<rect x="100.25" y="639.95" width="12.23" height="12.19" fill="#4a84a2"/>
<rect x="111.48" y="639.95" width="12.23" height="12.19" fill="#a0c0d0"/>
<rect x="122.71" y="639.95" width="12.23" height="12.19" fill="#74a0b8"/>
<rect x="133.94" y="639.95" width="12.23" height="12.19" fill="#74a0b8"/>
<rect x="145.17" y="639.95" width="12.23" height="12.19" fill="#6498b0"/>
<rect x="156.40" y="639.95" width="12.23" height="12.19" fill="#5e94ae"/>
<rect x="167.63" y="639.95" width="12.23" height="12.19" fill="#5e94ae"/>
<rect x="178.86" y="639.95" width="12.23" height="12.19" fill="#5e94ae"/>
<rect x="190.09" y="639.95" width="12.23" height="12.19" fill="#5e94ae"/>
<rect x="201.32" y="639.95" width="12.23" height="12.19" fill="#5e94ae"/>
<rect x="212.55" y="639.95" width="12.23" height="12.19" fill="#2e6486"/>
<rect x="223.78" y="639.95" width="12.23" height="12.19" fill="#5088a6"/>
<rect x="235.01" y="639.95" width="12.23" height="12.19" fill="#74a0b8"/>
<rect x="246.24" y="639.95" width="12.23" height="12.19" fill="#6c9cb4"/>
<rect x="257.47" y="639.95" width="12.23" height="12.19" fill="#5088a6"/>
<rect x="268.70" y="639.95" width="12.23" height="12.19" fill="#e078d0"/>
<rect x="279.93" y="639.95" width="12.23" height="12.19" fill="#e490d8"/>
<rect x="291.16" y="639.95" width="12.23" height="12.19" fill="#e498d8"/>
<rect x="302.39" y="639.95" width="12.23" height="12.19" fill="#d870cc"/>
<rect x="313.62" y="639.95" width="12.23" height="12.19" fill="#e8a0dc"/>
<rect x="324.85" y="639.95" width="12.23" height="12.19" fill="#d868c8"/>
<rect x="336.08" y="639.95" width="12.23" height="12.19" fill="#e8a8e0"/>
<rect x="347.31" y="639.95" width="12.23" height="12.19" fill="#d040b8"/>
<rect x="358.54" y="639.95" width="12.23" height="12.19" fill="#d040b8"/>
<rect x="369.77" y="639.95" width="12.23" height="12.19" fill="#d040b8"/>
<rect x="381.00" y="639.95" width="12.23" height="12.19" fill="#d040b8"/>
<rect x="392.23" y="639.95" width="12.23" height="12.19" fill="#d858c8"/>
<rect x="403.46" y="639.95" width="11.23" height="12.19" fill="#d858c8"/>
<rect x="100.25" y="651.14" width="12.23" height="12.19" fill="#b0ccd8"/>
<rect x="111.48" y="651.14" width="12.23" height="12.19" fill="#e8f0f4"/>
<rect x="122.71" y="651.14" width="12.23" height="12.19" fill="#f0c8e8"/>
<rect x="133.94" y="651.14" width="12.23" height="12.19" fill="#f0d0ec"/>
<rect x="145.17" y="651.14" width="12.23" height="12.19" fill="#eaf2f4"/>
<rect x="156.40" y="651.14" width="12.23" height="12.19" fill="#fcf6fa"/>
<rect x="167.63" y="651.14" width="12.23" height="12.19" fill="#f0c8e8"/>
<rect x="178.86" y="651.14" width="12.23" height="12.19" fill="#f4e8f4"/>
<rect x="190.09" y="651.14" width="12.23" height="12.19" fill="#f0c8e8"/>
<rect x="201.32" y="651.14" width="12.23" height="12.19" fill="#f4f8f8"/>
<rect x="212.55" y="651.14" width="12.23" height="12.19" fill="#e080d4"/>
<rect x="223.78" y="651.14" width="12.23" height="12.19" fill="#d040b8"/>
<rect x="235.01" y="651.14" width="12.23" height="12.19" fill="#d040b8"/>
<rect x="246.24" y="651.14" width="12.23" height="12.19" fill="#e088d4"/>
<rect x="257.47" y="651.14" width="12.23" height="12.19" fill="#e080d4"/>
<rect x="268.70" y="651.14" width="12.23" height="12.19" fill="#4a84a2"/>
<rect x="279.93" y="651.14" width="12.23" height="12.19" fill="#a8c8d4"/>
<rect x="291.16" y="651.14" width="12.23" height="12.19" fill="#a0c0d0"/>
<rect x="302.39" y="651.14" width="12.23" height="12.19" fill="#90b4c6"/>
<rect x="313.62" y="651.14" width="12.23" height="12.19" fill="#88aec2"/>
<rect x="324.85" y="651.14" width="12.23" height="12.19" fill="#c8dce4"/>
<rect x="336.08" y="651.14" width="12.23" height="12.19" fill="#e4eef2"/>
<rect x="347.31" y="651.14" width="12.23" height="12.19" fill="#80a8bc"/>
<rect x="358.54" y="651.14" width="12.23" height="12.19" fill="#6c9cb4"/>
<rect x="369.77" y="651.14" width="12.23" height="12.19" fill="#98bccc"/>
<rect x="381.00" y="651.14" width="12.23" height="12.19" fill="#a8c8d4"/>
<rect x="392.23" y="651.14" width="12.23" height="12.19" fill="#6c9cb4"/>
<rect x="403.46" y="651.14" width="11.23" height="12.19" fill="#98bccc"/>
<rect x="100.25" y="662.33" width="12.23" height="11.19" fill="#d858c8"/>
<rect x="111.48" y="662.33" width="12.23" height="11.19" fill="#e090d8"/>
<rect x="122.71" y="662.33" width="12.23" height="11.19" fill="#d860c8"/>
<rect x="133.94" y="662.33" width="12.23" height="11.19" fill="#e080d4"/>
<rect x="145.17" y="662.33" width="12.23" height="11.19" fill="#d040b8"/>
<rect x="156.40" y="662.33" width="12.23" height="11.19" fill="#d040b8"/>
<rect x="167.63" y="662.33" width="12.23" height="11.19" fill="#d040b8"/>
<rect x="178.86" y="662.33" width="12.23" height="11.19" fill="#d040b8"/>
<rect x="190.09" y="662.33" width="12.23" height="11.19" fill="#d868c8"/>
<rect x="201.32" y="662.33" width="12.23" height="11.19" fill="#d040b8"/>
<rect x="212.55" y="662.33" width="12.23" height="11.19" fill="#f4e0f0"/>
<rect x="223.78" y="662.33" width="12.23" height="11.19" fill="#f4e0f0"/>
<rect x="235.01" y="662.33" width="12.23" height="11.19" fill="#ecc0e4"/>
<rect x="246.24" y="662.33" width="12.23" height="11.19" fill="#e070d0"/>
<rect x="257.47" y="662.33" width="12.23" height="11.19" fill="#d868c8"/>
<rect x="268.70" y="662.33" width="12.23" height="11.19" fill="#a0c0d0"/>
<rect x="279.93" y="662.33" width="12.23" height="11.19" fill="#90b4c6"/>
<rect x="291.16" y="662.33" width="12.23" height="11.19" fill="#5088a6"/>
<rect x="302.39" y="662.33" width="12.23" height="11.19" fill="#4a84a2"/>
<rect x="313.62" y="662.33" width="12.23" height="11.19" fill="#4a84a2"/>
<rect x="324.85" y="662.33" width="12.23" height="11.19" fill="#4a84a2"/>
<rect x="336.08" y="662.33" width="12.23" height="11.19" fill="#4a84a2"/>
<rect x="347.31" y="662.33" width="12.23" height="11.19" fill="#6c9cb4"/>
<rect x="358.54" y="662.33" width="12.23" height="11.19" fill="#80a8bc"/>
<rect x="369.77" y="662.33" width="12.23" height="11.19" fill="#4a84a2"/>
<rect x="381.00" y="662.33" width="12.23" height="11.19" fill="#4a84a2"/>
<rect x="392.23" y="662.33" width="12.23" height="11.19" fill="#6c9cb4"/>
<rect x="403.46" y="662.33" width="11.23" height="11.19" fill="#366e90"/>
<text x="218.17" y="592.00" font-size="7.0" text-anchor="middle" fill="#111" stroke="#111" stroke-width="0.2">*</text>
<text x="352.93" y="592.00" font-size="7.0" text-anchor="middle" fill="#111" stroke="#111" stroke-width="0.2">*</text>
<text x="364.16" y="592.00" font-size="7.0" text-anchor="middle" fill="#111" stroke="#111" stroke-width="0.2">**</text>
<text x="364.16" y="603.18" font-size="7.0" text-anchor="middle" fill="#111" stroke="#111" stroke-width="0.2">**</text>
<text x="375.38" y="603.18" font-size="7.0" text-anchor="middle" fill="#111" stroke="#111" stroke-width="0.2">*</text>
<text x="364.16" y="614.38" font-size="7.0" text-anchor="middle" fill="#111" stroke="#111" stroke-width="0.2">**</text>
<text x="308.00" y="625.56" font-size="7.0" text-anchor="middle" fill="#111" stroke="#111" stroke-width="0.2">*</text>
<text x="173.25" y="636.75" font-size="7.0" text-anchor="middle" fill="#111" stroke="#111" stroke-width="0.2">*</text>
<text x="184.48" y="636.75" font-size="7.0" text-anchor="middle" fill="#111" stroke="#111" stroke-width="0.2">*</text>
<text x="218.17" y="636.75" font-size="7.0" text-anchor="middle" fill="#111" stroke="#111" stroke-width="0.2">*</text>
<text x="263.09" y="636.75" font-size="7.0" text-anchor="middle" fill="#111" stroke="#111" stroke-width="0.2">*</text>
<text x="319.24" y="636.75" font-size="7.0" text-anchor="middle" fill="#111" stroke="#111" stroke-width="0.2">**</text>
<text x="330.47" y="636.75" font-size="7.0" text-anchor="middle" fill="#111" stroke="#111" stroke-width="0.2">*</text>
<text x="341.70" y="636.75" font-size="7.0" text-anchor="middle" fill="#111" stroke="#111" stroke-width="0.2">*</text>
<text x="364.16" y="636.75" font-size="7.0" text-anchor="middle" fill="#111" stroke="#111" stroke-width="0.2">*</text>
<text x="218.17" y="647.94" font-size="7.0" text-anchor="middle" fill="#111" stroke="#111" stroke-width="0.2">**</text>
<text x="263.09" y="647.94" font-size="7.0" text-anchor="middle" fill="#111" stroke="#111" stroke-width="0.2">*</text>
<text x="308.00" y="647.94" font-size="7.0" text-anchor="middle" fill="#111" stroke="#111" stroke-width="0.2">*</text>
<text x="330.47" y="647.94" font-size="7.0" text-anchor="middle" fill="#111" stroke="#111" stroke-width="0.2">*</text>
<text x="352.93" y="647.94" font-size="7.0" text-anchor="middle" fill="#111" stroke="#111" stroke-width="0.2">**</text>
<text x="364.16" y="647.94" font-size="7.0" text-anchor="middle" fill="#111" stroke="#111" stroke-width="0.2">**</text>
<text x="375.38" y="647.94" font-size="7.0" text-anchor="middle" fill="#111" stroke="#111" stroke-width="0.2">**</text>
<text x="386.62" y="647.94" font-size="7.0" text-anchor="middle" fill="#111" stroke="#111" stroke-width="0.2">**</text>
<text x="397.85" y="647.94" font-size="7.0" text-anchor="middle" fill="#111" stroke="#111" stroke-width="0.2">*</text>
<text x="409.07" y="647.94" font-size="7.0" text-anchor="middle" fill="#111" stroke="#111" stroke-width="0.2">*</text>
<text x="229.40" y="659.13" font-size="7.0" text-anchor="middle" fill="#111" stroke="#111" stroke-width="0.2">**</text>
<text x="240.62" y="659.13" font-size="7.0" text-anchor="middle" fill="#111" stroke="#111" stroke-width="0.2">**</text>
<text x="274.31" y="659.13" font-size="7.0" text-anchor="middle" fill="#111" stroke="#111" stroke-width="0.2">*</text>
<text x="105.86" y="670.32" font-size="7.0" text-anchor="middle" fill="#111" stroke="#111" stroke-width="0.2">*</text>
<text x="128.32" y="670.32" font-size="7.0" text-anchor="middle" fill="#111" stroke="#111" stroke-width="0.2">*</text>
<text x="150.78" y="670.32" font-size="7.0" text-anchor="middle" fill="#111" stroke="#111" stroke-width="0.2">**</text>
<text x="162.01" y="670.32" font-size="7.0" text-anchor="middle" fill="#111" stroke="#111" stroke-width="0.2">**</text>
<text x="173.25" y="670.32" font-size="7.0" text-anchor="middle" fill="#111" stroke="#111" stroke-width="0.2">**</text>
<text x="184.48" y="670.32" font-size="7.0" text-anchor="middle" fill="#111" stroke="#111" stroke-width="0.2">**</text>
<text x="195.70" y="670.32" font-size="7.0" text-anchor="middle" fill="#111" stroke="#111" stroke-width="0.2">*</text>
<text x="206.94" y="670.32" font-size="7.0" text-anchor="middle" fill="#111" stroke="#111" stroke-width="0.2">**</text>
<text x="263.09" y="670.32" font-size="7.0" text-anchor="middle" fill="#111" stroke="#111" stroke-width="0.2">*</text>
<text x="308.00" y="670.32" font-size="7.0" text-anchor="middle" fill="#111" stroke="#111" stroke-width="0.2">*</text>
<text x="319.24" y="670.32" font-size="7.0" text-anchor="middle" fill="#111" stroke="#111" stroke-width="0.2">*</text>
<text x="330.47" y="670.32" font-size="7.0" text-anchor="middle" fill="#111" stroke="#111" stroke-width="0.2">*</text>
<text x="341.70" y="670.32" font-size="7.0" text-anchor="middle" fill="#111" stroke="#111" stroke-width="0.2">*</text>
<text x="409.07" y="670.32" font-size="7.0" text-anchor="middle" fill="#111" stroke="#111" stroke-width="0.2">*</text>
<text x="417.00" y="592.80" font-size="9.0" fill="#1a1a1a" stroke="#1a1a1a" stroke-width="0.2">Prevotella_copri</text>
<text x="417.00" y="603.99" font-size="9.0" fill="#1a1a1a" stroke="#1a1a1a" stroke-width="0.2">Romboutsia_ilealis</text>
<text x="417.00" y="615.18" font-size="9.0" fill="#1a1a1a" stroke="#1a1a1a" stroke-width="0.2">Ruminococcus_sp._FMBCY1</text>
<text x="417.00" y="626.37" font-size="9.0" fill="#1a1a1a" stroke="#1a1a1a" stroke-width="0.2">Lactococcus_lactis</text>
<text x="417.00" y="637.56" font-size="9.0" fill="#1a1a1a" stroke="#1a1a1a" stroke-width="0.2">Muribaculum_gordoncarteri</text>
<text x="417.00" y="648.75" font-size="9.0" fill="#1a1a1a" stroke="#1a1a1a" stroke-width="0.2">Lactobacillus_intestinalis</text>
<text x="417.00" y="659.94" font-size="9.0" fill="#1a1a1a" stroke="#1a1a1a" stroke-width="0.2">Lactobacillus_taiwanensis</text>
<text x="417.00" y="671.12" font-size="9.0" fill="#1a1a1a" stroke="#1a1a1a" stroke-width="0.2">Escherichia_coli</text>
<text x="103.06" y="676.30" font-size="9.0" fill="#1a1a1a" transform="rotate(90 103.06 676.30)" stroke="#1a1a1a" stroke-width="0.2">Homocysteine</text>
<text x="114.30" y="676.30" font-size="9.0" fill="#1a1a1a" transform="rotate(90 114.30 676.30)" stroke="#1a1a1a" stroke-width="0.2">Isoleucylvaline</text>
<text x="125.52" y="676.30" font-size="9.0" fill="#1a1a1a" transform="rotate(90 125.52 676.30)" stroke="#1a1a1a" stroke-width="0.2">Jaceosidin</text>
<text x="136.75" y="676.30" font-size="9.0" fill="#1a1a1a" transform="rotate(90 136.75 676.30)" stroke="#1a1a1a" stroke-width="0.2">Lotaustralin</text>
<text x="147.98" y="676.30" font-size="9.0" fill="#1a1a1a" transform="rotate(90 147.98 676.30)" stroke="#1a1a1a" stroke-width="0.2">7−Diethylamino−4−Methylcoumarin</text>
<text x="159.21" y="676.30" font-size="9.0" fill="#1a1a1a" transform="rotate(90 159.21 676.30)" stroke="#1a1a1a" stroke-width="0.2">Beta−Carotene−5,6−Epoxide</text>
<text x="170.44" y="676.30" font-size="9.0" fill="#f22" transform="rotate(90 170.44 676.30)" stroke="#f22" stroke-width="0.2">Indole</text>
<text x="181.68" y="676.30" font-size="9.0" fill="#1a1a1a" transform="rotate(90 181.68 676.30)" stroke="#1a1a1a" stroke-width="0.2">N,N−Dimethyldodecylamine N−Oxide</text>
<text x="192.90" y="676.30" font-size="9.0" fill="#1a1a1a" transform="rotate(90 192.90 676.30)" stroke="#1a1a1a" stroke-width="0.2">4−Hydroxycoumarin</text>
<text x="204.13" y="676.30" font-size="9.0" fill="#1a1a1a" transform="rotate(90 204.13 676.30)" stroke="#1a1a1a" stroke-width="0.2">Delta−Tocopherol</text>
<text x="215.37" y="676.30" font-size="9.0" fill="#1a1a1a" transform="rotate(90 215.37 676.30)" stroke="#1a1a1a" stroke-width="0.2">Ranolazine</text>
<text x="226.59" y="676.30" font-size="9.0" fill="#1a1a1a" transform="rotate(90 226.59 676.30)" stroke="#1a1a1a" stroke-width="0.2">Cinchonine</text>
<text x="237.82" y="676.30" font-size="9.0" fill="#1a1a1a" transform="rotate(90 237.82 676.30)" stroke="#1a1a1a" stroke-width="0.2">Butyryl Carnitine (Isomer of 920)</text>
<text x="249.06" y="676.30" font-size="9.0" fill="#1a1a1a" transform="rotate(90 249.06 676.30)" stroke="#1a1a1a" stroke-width="0.2">N,N−Dimethylglycine</text>
<text x="260.29" y="676.30" font-size="9.0" fill="#1a1a1a" transform="rotate(90 260.29 676.30)" stroke="#1a1a1a" stroke-width="0.2">Phytosphingosine (Isomer of 1696)</text>
<text x="272.12" y="676.30" font-size="4.6" fill="#1a1a1a" transform="rotate(90 272.12 676.30)" textLength="164" lengthAdjust="spacingAndGlyphs" stroke="#1a1a1a" stroke-width="0.2">2−Hydroxy−4−Methyl−3H−Benzo[E][1,4]Diazepin−5(4H)−One</text>
<text x="282.75" y="676.30" font-size="9.0" fill="#1a1a1a" transform="rotate(90 282.75 676.30)" stroke="#1a1a1a" stroke-width="0.2">Secopenitrem D</text>
<text x="293.97" y="676.30" font-size="9.0" fill="#1a1a1a" transform="rotate(90 293.97 676.30)" stroke="#1a1a1a" stroke-width="0.2">Buspirone</text>
<text x="305.20" y="676.30" font-size="9.0" fill="#1a1a1a" transform="rotate(90 305.20 676.30)" stroke="#1a1a1a" stroke-width="0.2">Cholest−4,6−Dien−3−One</text>
<text x="316.44" y="676.30" font-size="9.0" fill="#1a1a1a" transform="rotate(90 316.44 676.30)" stroke="#1a1a1a" stroke-width="0.2">Quinolin−2,8−diol</text>
<text x="327.67" y="676.30" font-size="9.0" fill="#1a1a1a" transform="rotate(90 327.67 676.30)" stroke="#1a1a1a" stroke-width="0.2">LPC 16:0</text>
<text x="338.90" y="676.30" font-size="9.0" fill="#1a1a1a" transform="rotate(90 338.90 676.30)" stroke="#1a1a1a" stroke-width="0.2">Forskolin</text>
<text x="350.12" y="676.30" font-size="9.0" fill="#1a1a1a" transform="rotate(90 350.12 676.30)" stroke="#1a1a1a" stroke-width="0.2">3,4−Dihydroxymandelic Acid</text>
<text x="361.36" y="676.30" font-size="9.0" fill="#1a1a1a" transform="rotate(90 361.36 676.30)" stroke="#1a1a1a" stroke-width="0.2">Phosphatidylcholine Lyso 17</text>
<text x="372.58" y="676.30" font-size="9.0" fill="#1a1a1a" transform="rotate(90 372.58 676.30)" stroke="#1a1a1a" stroke-width="0.2">Salvinorin A</text>
<text x="383.81" y="676.30" font-size="9.0" fill="#1a1a1a" transform="rotate(90 383.81 676.30)" stroke="#1a1a1a" stroke-width="0.2">Rotenone</text>
<text x="395.05" y="676.30" font-size="9.0" fill="#1a1a1a" transform="rotate(90 395.05 676.30)" stroke="#1a1a1a" stroke-width="0.2">3-Hydroxy-2-Octylpentanedioic Acid</text>
<text x="406.27" y="676.30" font-size="9.0" fill="#1a1a1a" transform="rotate(90 406.27 676.30)" stroke="#1a1a1a" stroke-width="0.2">7-Oxocholesterol</text>
<line x1="128.32" y1="584.00" x2="128.32" y2="582.00" stroke="#222" stroke-width="0.9"/>
<line x1="139.56" y1="584.00" x2="139.56" y2="582.00" stroke="#222" stroke-width="0.9"/>
<line x1="128.32" y1="582.00" x2="139.56" y2="582.00" stroke="#222" stroke-width="0.9"/>
<line x1="117.09" y1="584.00" x2="117.09" y2="579.20" stroke="#222" stroke-width="0.9"/>
<line x1="133.94" y1="582.00" x2="133.94" y2="579.20" stroke="#222" stroke-width="0.9"/>
<line x1="117.09" y1="579.20" x2="133.94" y2="579.20" stroke="#222" stroke-width="0.9"/>
<line x1="150.78" y1="584.00" x2="150.78" y2="582.40" stroke="#222" stroke-width="0.9"/>
<line x1="162.01" y1="584.00" x2="162.01" y2="582.40" stroke="#222" stroke-width="0.9"/>
<line x1="150.78" y1="582.40" x2="162.01" y2="582.40" stroke="#222" stroke-width="0.9"/>
<line x1="173.25" y1="584.00" x2="173.25" y2="582.40" stroke="#222" stroke-width="0.9"/>
<line x1="184.48" y1="584.00" x2="184.48" y2="582.40" stroke="#222" stroke-width="0.9"/>
<line x1="173.25" y1="582.40" x2="184.48" y2="582.40" stroke="#222" stroke-width="0.9"/>
<line x1="156.40" y1="582.40" x2="156.40" y2="580.50" stroke="#222" stroke-width="0.9"/>
<line x1="178.86" y1="582.40" x2="178.86" y2="580.50" stroke="#222" stroke-width="0.9"/>
<line x1="156.40" y1="580.50" x2="178.86" y2="580.50" stroke="#222" stroke-width="0.9"/>
<line x1="195.70" y1="584.00" x2="195.70" y2="580.70" stroke="#222" stroke-width="0.9"/>
<line x1="206.94" y1="584.00" x2="206.94" y2="580.70" stroke="#222" stroke-width="0.9"/>
<line x1="195.70" y1="580.70" x2="206.94" y2="580.70" stroke="#222" stroke-width="0.9"/>
<line x1="167.63" y1="580.50" x2="167.63" y2="577.60" stroke="#222" stroke-width="0.9"/>
<line x1="201.32" y1="580.70" x2="201.32" y2="577.60" stroke="#222" stroke-width="0.9"/>
<line x1="167.63" y1="577.60" x2="201.32" y2="577.60" stroke="#222" stroke-width="0.9"/>
<line x1="125.52" y1="579.20" x2="125.52" y2="577.60" stroke="#222" stroke-width="0.9"/>
<line x1="184.47" y1="577.60" x2="184.47" y2="577.60" stroke="#222" stroke-width="0.9"/>
<line x1="125.52" y1="577.60" x2="184.47" y2="577.60" stroke="#222" stroke-width="0.9"/>
<line x1="105.86" y1="584.00" x2="105.86" y2="576.90" stroke="#222" stroke-width="0.9"/>
<line x1="155.00" y1="577.60" x2="155.00" y2="576.90" stroke="#222" stroke-width="0.9"/>
<line x1="105.86" y1="576.90" x2="155.00" y2="576.90" stroke="#222" stroke-width="0.9"/>
<line x1="229.40" y1="584.00" x2="229.40" y2="581.40" stroke="#222" stroke-width="0.9"/>
<line x1="240.62" y1="584.00" x2="240.62" y2="581.40" stroke="#222" stroke-width="0.9"/>
<line x1="229.40" y1="581.40" x2="240.62" y2="581.40" stroke="#222" stroke-width="0.9"/>
<line x1="251.86" y1="584.00" x2="251.86" y2="581.40" stroke="#222" stroke-width="0.9"/>
<line x1="263.09" y1="584.00" x2="263.09" y2="581.40" stroke="#222" stroke-width="0.9"/>
<line x1="251.86" y1="581.40" x2="263.09" y2="581.40" stroke="#222" stroke-width="0.9"/>
<line x1="235.01" y1="581.40" x2="235.01" y2="577.10" stroke="#222" stroke-width="0.9"/>
<line x1="257.47" y1="581.40" x2="257.47" y2="577.10" stroke="#222" stroke-width="0.9"/>
<line x1="235.01" y1="577.10" x2="257.47" y2="577.10" stroke="#222" stroke-width="0.9"/>
<line x1="218.17" y1="584.00" x2="218.17" y2="574.80" stroke="#222" stroke-width="0.9"/>
<line x1="246.24" y1="577.10" x2="246.24" y2="574.80" stroke="#222" stroke-width="0.9"/>
<line x1="218.17" y1="574.80" x2="246.24" y2="574.80" stroke="#222" stroke-width="0.9"/>
<line x1="130.43" y1="576.90" x2="130.43" y2="570.50" stroke="#222" stroke-width="0.9"/>
<line x1="232.20" y1="574.80" x2="232.20" y2="570.50" stroke="#222" stroke-width="0.9"/>
<line x1="130.43" y1="570.50" x2="232.20" y2="570.50" stroke="#222" stroke-width="0.9"/>
<line x1="296.77" y1="584.00" x2="296.77" y2="580.00" stroke="#222" stroke-width="0.9"/>
<line x1="308.00" y1="584.00" x2="308.00" y2="580.00" stroke="#222" stroke-width="0.9"/>
<line x1="296.77" y1="580.00" x2="308.00" y2="580.00" stroke="#222" stroke-width="0.9"/>
<line x1="285.55" y1="584.00" x2="285.55" y2="578.30" stroke="#222" stroke-width="0.9"/>
<line x1="302.39" y1="580.00" x2="302.39" y2="578.30" stroke="#222" stroke-width="0.9"/>
<line x1="285.55" y1="578.30" x2="302.39" y2="578.30" stroke="#222" stroke-width="0.9"/>
<line x1="274.31" y1="584.00" x2="274.31" y2="576.50" stroke="#222" stroke-width="0.9"/>
<line x1="293.97" y1="578.30" x2="293.97" y2="576.50" stroke="#222" stroke-width="0.9"/>
<line x1="274.31" y1="576.50" x2="293.97" y2="576.50" stroke="#222" stroke-width="0.9"/>
<line x1="330.47" y1="584.00" x2="330.47" y2="578.30" stroke="#222" stroke-width="0.9"/>
<line x1="341.70" y1="584.00" x2="341.70" y2="578.30" stroke="#222" stroke-width="0.9"/>
<line x1="330.47" y1="578.30" x2="341.70" y2="578.30" stroke="#222" stroke-width="0.9"/>
<line x1="319.24" y1="584.00" x2="319.24" y2="576.50" stroke="#222" stroke-width="0.9"/>
<line x1="336.08" y1="578.30" x2="336.08" y2="576.50" stroke="#222" stroke-width="0.9"/>
<line x1="319.24" y1="576.50" x2="336.08" y2="576.50" stroke="#222" stroke-width="0.9"/>
<line x1="284.14" y1="576.50" x2="284.14" y2="574.40" stroke="#222" stroke-width="0.9"/>
<line x1="327.66" y1="576.50" x2="327.66" y2="574.40" stroke="#222" stroke-width="0.9"/>
<line x1="284.14" y1="574.40" x2="327.66" y2="574.40" stroke="#222" stroke-width="0.9"/>
<line x1="352.93" y1="584.00" x2="352.93" y2="579.20" stroke="#222" stroke-width="0.9"/>
<line x1="364.16" y1="584.00" x2="364.16" y2="579.20" stroke="#222" stroke-width="0.9"/>
<line x1="352.93" y1="579.20" x2="364.16" y2="579.20" stroke="#222" stroke-width="0.9"/>
<line x1="375.38" y1="584.00" x2="375.38" y2="580.60" stroke="#222" stroke-width="0.9"/>
<line x1="386.62" y1="584.00" x2="386.62" y2="580.60" stroke="#222" stroke-width="0.9"/>
<line x1="375.38" y1="580.60" x2="386.62" y2="580.60" stroke="#222" stroke-width="0.9"/>
<line x1="397.85" y1="584.00" x2="397.85" y2="580.60" stroke="#222" stroke-width="0.9"/>
<line x1="409.07" y1="584.00" x2="409.07" y2="580.60" stroke="#222" stroke-width="0.9"/>
<line x1="397.85" y1="580.60" x2="409.07" y2="580.60" stroke="#222" stroke-width="0.9"/>
<line x1="381.00" y1="580.60" x2="381.00" y2="577.40" stroke="#222" stroke-width="0.9"/>
<line x1="403.46" y1="580.60" x2="403.46" y2="577.40" stroke="#222" stroke-width="0.9"/>
<line x1="381.00" y1="577.40" x2="403.46" y2="577.40" stroke="#222" stroke-width="0.9"/>
<line x1="358.54" y1="579.20" x2="358.54" y2="572.20" stroke="#222" stroke-width="0.9"/>
<line x1="392.23" y1="577.40" x2="392.23" y2="572.20" stroke="#222" stroke-width="0.9"/>
<line x1="358.54" y1="572.20" x2="392.23" y2="572.20" stroke="#222" stroke-width="0.9"/>
<line x1="305.90" y1="574.40" x2="305.90" y2="567.40" stroke="#222" stroke-width="0.9"/>
<line x1="375.38" y1="572.20" x2="375.38" y2="567.40" stroke="#222" stroke-width="0.9"/>
<line x1="305.90" y1="567.40" x2="375.38" y2="567.40" stroke="#222" stroke-width="0.9"/>
<line x1="181.32" y1="570.50" x2="181.32" y2="555.50" stroke="#222" stroke-width="0.9"/>
<line x1="340.64" y1="567.40" x2="340.64" y2="555.50" stroke="#222" stroke-width="0.9"/>
<line x1="181.32" y1="555.50" x2="340.64" y2="555.50" stroke="#222" stroke-width="0.9"/>
<line x1="100.25" y1="600.78" x2="97.30" y2="600.78" stroke="#222" stroke-width="0.9"/>
<line x1="100.25" y1="611.98" x2="97.30" y2="611.98" stroke="#222" stroke-width="0.9"/>
<line x1="97.30" y1="600.78" x2="97.30" y2="611.98" stroke="#222" stroke-width="0.9"/>
<line x1="100.25" y1="589.60" x2="95.00" y2="589.60" stroke="#222" stroke-width="0.9"/>
<line x1="97.30" y1="606.38" x2="95.00" y2="606.38" stroke="#222" stroke-width="0.9"/>
<line x1="95.00" y1="589.60" x2="95.00" y2="606.38" stroke="#222" stroke-width="0.9"/>
<line x1="100.25" y1="634.36" x2="92.60" y2="634.36" stroke="#222" stroke-width="0.9"/>
<line x1="100.25" y1="645.54" x2="92.60" y2="645.54" stroke="#222" stroke-width="0.9"/>
<line x1="92.60" y1="634.36" x2="92.60" y2="645.54" stroke="#222" stroke-width="0.9"/>
<line x1="100.25" y1="623.16" x2="90.90" y2="623.16" stroke="#222" stroke-width="0.9"/>
<line x1="92.60" y1="639.95" x2="90.90" y2="639.95" stroke="#222" stroke-width="0.9"/>
<line x1="90.90" y1="623.16" x2="90.90" y2="639.95" stroke="#222" stroke-width="0.9"/>
<line x1="95.00" y1="597.99" x2="89.00" y2="597.99" stroke="#222" stroke-width="0.9"/>
<line x1="90.90" y1="631.56" x2="89.00" y2="631.56" stroke="#222" stroke-width="0.9"/>
<line x1="89.00" y1="597.99" x2="89.00" y2="631.56" stroke="#222" stroke-width="0.9"/>
<line x1="100.25" y1="656.74" x2="84.00" y2="656.74" stroke="#222" stroke-width="0.9"/>
<line x1="100.25" y1="667.92" x2="84.00" y2="667.92" stroke="#222" stroke-width="0.9"/>
<line x1="84.00" y1="656.74" x2="84.00" y2="667.92" stroke="#222" stroke-width="0.9"/>
<line x1="89.00" y1="614.77" x2="74.30" y2="614.77" stroke="#222" stroke-width="0.9"/>
<line x1="84.00" y1="662.33" x2="74.30" y2="662.33" stroke="#222" stroke-width="0.9"/>
<line x1="74.30" y1="614.77" x2="74.30" y2="662.33" stroke="#222" stroke-width="0.9"/>
<defs><linearGradient id="gD" x1="0" y1="0" x2="0" y2="1"><stop offset="0" stop-color="#d03cb8"/><stop offset="0.25" stop-color="#e490d8"/><stop offset="0.5" stop-color="#ffffff"/><stop offset="0.75" stop-color="#80a8bc"/><stop offset="1" stop-color="#2e5e7e"/></linearGradient></defs>
<defs><linearGradient id="gD2" gradientUnits="userSpaceOnUse" x1="0" y1="694.5" x2="0" y2="796.9"><stop offset="0" stop-color="#cc38b4"/><stop offset="0.22" stop-color="#df86d2"/><stop offset="0.44" stop-color="#f8eaf6"/><stop offset="0.5" stop-color="#ffffff"/><stop offset="0.56" stop-color="#e8f0f4"/><stop offset="0.78" stop-color="#7aa2b8"/><stop offset="1" stop-color="#2c5c7c"/></linearGradient></defs>
<rect x="439.70" y="694.50" width="6.60" height="102.40" fill="url(#gD2)"/>
<text x="448.90" y="722.40" font-size="8.6" fill="#111" stroke="#111" stroke-width="0.2">0.5</text>
<text x="448.90" y="752.60" font-size="8.6" fill="#111" stroke="#111" stroke-width="0.2">0</text>
<text x="448.90" y="783.40" font-size="8.6" fill="#111" stroke="#111" stroke-width="0.2">−0.5</text>
</svg>
</body></html>
